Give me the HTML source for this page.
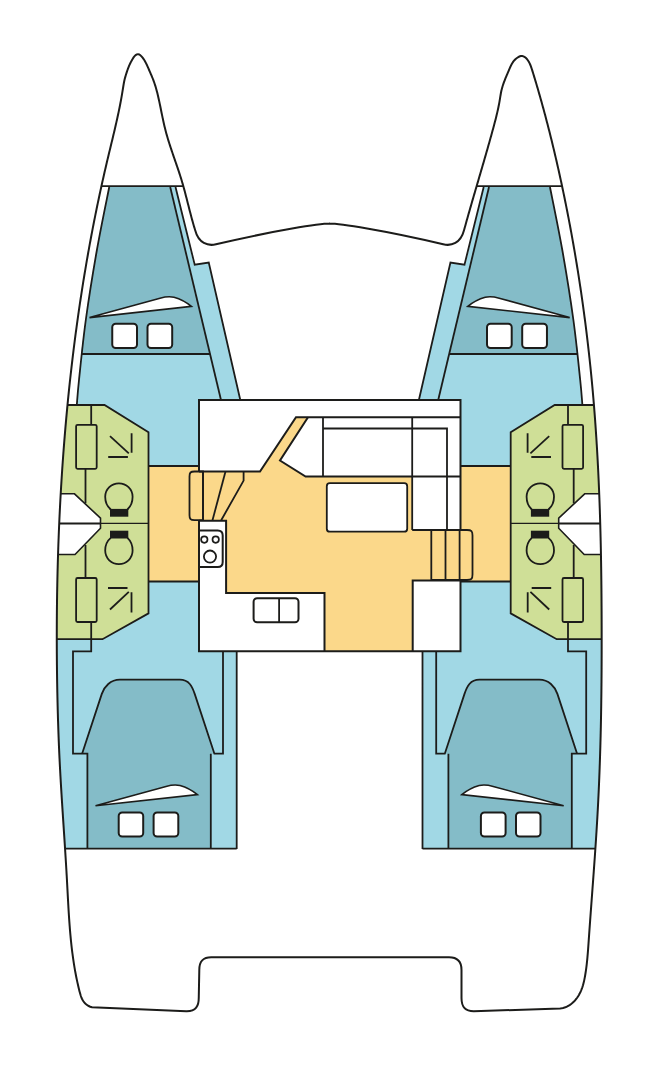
<!DOCTYPE html>
<html><head><meta charset="utf-8"><style>
html,body{margin:0;padding:0;background:#fff;width:660px;height:1080px;overflow:hidden;font-family:"Liberation Sans",sans-serif}
svg{display:block}
</style></head><body>
<svg width="660" height="1080" viewBox="0 0 660 1080">
<defs><clipPath id="hc"><path d="M330 223.6 C320 223.6 277 230 216 244.3 C208 246.22 198.61 243.5 195.1 230 L194.66 228.56 L194.22 227.12 L193.8 225.67 L193.38 224.23 L192.96 222.78 L192.56 221.33 L192.16 219.88 L191.76 218.43 L191.37 216.98 L190.98 215.53 L190.6 214.07 L190.22 212.62 L189.85 211.16 L189.47 209.71 L189.1 208.26 L188.73 206.8 L188.36 205.35 L187.99 203.89 L187.62 202.44 L187.25 200.98 L186.88 199.53 L186.51 198.08 L186.13 196.63 L185.75 195.18 L185.38 193.73 L184.99 192.28 L184.61 190.83 L184.21 189.38 L183.82 187.94 L183.42 186.49 L183.01 185.05 L182.6 183.61 L182.18 182.18 L181.75 180.74 L181.31 179.31 L180.87 177.87 L180.42 176.44 L179.97 175.02 L179.5 173.59 L179.04 172.17 L178.57 170.74 L178.09 169.32 L177.61 167.9 L177.13 166.48 L176.64 165.06 L176.15 163.64 L175.66 162.22 L175.17 160.8 L174.68 159.38 L174.19 157.96 L173.7 156.55 L173.21 155.13 L172.73 153.71 L172.24 152.29 L171.76 150.86 L171.28 149.44 L170.81 148.02 L170.34 146.59 L169.87 145.17 L169.41 143.74 L168.96 142.31 L168.51 140.88 L168.07 139.44 L167.64 138.01 L167.22 136.57 L166.81 135.12 L166.4 133.68 L166 132.23 L165.62 130.78 L165.25 129.33 L164.88 127.87 L164.53 126.41 L164.19 124.95 L163.85 123.48 L163.52 122.02 L163.2 120.55 L162.89 119.08 L162.58 117.61 L162.27 116.13 L161.96 114.66 L161.66 113.18 L161.36 111.71 L161.06 110.23 L160.77 108.76 L160.47 107.28 L160.16 105.81 L159.86 104.33 L159.55 102.86 L159.24 101.39 L158.92 99.92 L158.59 98.45 L158.26 96.99 L157.92 95.53 L157.57 94.07 L157.21 92.61 L156.83 91.16 L156.44 89.7 L156.03 88.26 L155.61 86.82 L155.17 85.38 L154.7 83.94 L154.22 82.51 L153.71 81.09 L153.17 79.67 L152.62 78.26 L152.04 76.86 L151.45 75.46 L150.86 74.08 L150.26 72.7 L149.68 71.34 L149.1 70 L148.54 68.67 L147.97 67.35 L147.39 66.03 L146.78 64.69 L146.11 63.34 L145.38 61.96 L144.55 60.55 L143.63 59.09 L142.6 57.64 L141.5 56.32 L140.35 55.23 L139.17 54.47 L137.99 54.15 L136.82 54.36 L135.69 55.06 L134.6 56.13 L133.58 57.45 L132.62 58.91 L131.75 60.4 L130.97 61.84 L130.27 63.24 L129.63 64.61 L129.04 65.97 L128.5 67.31 L127.99 68.66 L127.5 70.02 L127.01 71.4 L126.54 72.81 L126.08 74.23 L125.64 75.68 L125.23 77.13 L124.84 78.6 L124.48 80.07 L124.16 81.55 L123.87 83.03 L123.61 84.52 L123.36 86 L123.12 87.49 L122.88 88.97 L122.65 90.46 L122.41 91.95 L122.16 93.43 L121.91 94.91 L121.65 96.39 L121.39 97.87 L121.12 99.35 L120.85 100.83 L120.57 102.3 L120.29 103.78 L120 105.25 L119.71 106.72 L119.41 108.2 L119.11 109.67 L118.81 111.14 L118.5 112.61 L118.19 114.08 L117.87 115.54 L117.55 117.01 L117.23 118.48 L116.9 119.94 L116.58 121.41 L116.25 122.87 L115.91 124.33 L115.58 125.8 L115.24 127.26 L114.9 128.72 L114.56 130.18 L114.21 131.65 L113.87 133.11 L113.52 134.57 L113.17 136.03 L112.83 137.49 L112.48 138.95 L112.12 140.41 L111.77 141.87 L111.42 143.33 L111.07 144.79 L110.71 146.25 L110.36 147.7 L110.01 149.16 L109.66 150.62 L109.3 152.08 L108.95 153.54 L108.6 155 L108.25 156.46 L107.9 157.92 L107.55 159.38 L107.21 160.85 L106.86 162.31 L106.52 163.77 L106.18 165.23 L105.83 166.69 L105.49 168.16 L105.16 169.62 L104.82 171.08 L104.48 172.55 L104.15 174.01 L103.82 175.48 L103.48 176.94 L103.15 178.41 L102.83 179.87 L102.5 181.34 L102.17 182.8 L101.85 184.27 L101.52 185.74 L101.2 187.2 L100.88 188.67 L100.56 190.14 L100.24 191.61 L99.93 193.07 L99.61 194.54 L99.3 196.01 L98.98 197.48 L98.67 198.95 L98.36 200.42 L98.05 201.89 L97.75 203.36 L97.44 204.83 L97.14 206.3 L96.83 207.77 L96.53 209.25 L96.23 210.72 L95.93 212.19 L95.63 213.66 L95.34 215.14 L95.04 216.61 L94.75 218.08 L94.45 219.56 L94.16 221.03 L93.87 222.5 L93.58 223.98 L93.29 225.45 L93.01 226.93 L92.72 228.4 L92.44 229.88 L92.16 231.35 L91.88 232.83 L91.6 234.31 L91.32 235.78 L91.04 237.26 L90.76 238.74 L90.49 240.21 L90.21 241.69 L89.94 243.17 L89.67 244.65 L89.4 246.13 L89.13 247.6 L88.87 249.08 L88.6 250.56 L88.33 252.04 L88.07 253.52 L87.81 255 L87.55 256.48 L87.29 257.96 L87.03 259.44 L86.77 260.92 L86.52 262.4 L86.26 263.89 L86.01 265.37 L85.76 266.85 L85.51 268.33 L85.26 269.81 L85.01 271.3 L84.76 272.78 L84.51 274.26 L84.27 275.74 L84.03 277.23 L83.78 278.71 L83.54 280.19 L83.3 281.68 L83.06 283.16 L82.83 284.65 L82.59 286.13 L82.36 287.62 L82.12 289.1 L81.89 290.59 L81.66 292.07 L81.43 293.56 L81.2 295.04 L80.97 296.53 L80.74 298.01 L80.52 299.5 L80.29 300.99 L80.07 302.47 L79.85 303.96 L79.63 305.45 L79.41 306.93 L79.19 308.42 L78.97 309.91 L78.76 311.4 L78.54 312.88 L78.33 314.37 L78.12 315.86 L77.91 317.35 L77.7 318.84 L77.49 320.33 L77.28 321.81 L77.07 323.3 L76.87 324.79 L76.66 326.28 L76.46 327.77 L76.26 329.26 L76.06 330.75 L75.86 332.24 L75.66 333.73 L75.46 335.22 L75.27 336.71 L75.07 338.2 L74.88 339.69 L74.69 341.18 L74.5 342.67 L74.3 344.17 L74.12 345.66 L73.93 347.15 L73.74 348.64 L73.55 350.13 L73.37 351.62 L73.19 353.11 L73 354.61 L72.82 356.1 L72.64 357.59 L72.46 359.08 L72.29 360.58 L72.11 362.07 L71.93 363.56 L71.76 365.05 L71.58 366.55 L71.41 368.04 L71.24 369.53 L71.07 371.03 L70.9 372.52 L70.73 374.01 L70.57 375.51 L70.4 377 L70.24 378.49 L70.07 379.99 L69.91 381.48 L69.75 382.98 L69.59 384.47 L69.43 385.96 L69.27 387.46 L69.11 388.95 L68.96 390.45 L68.8 391.94 L68.65 393.44 L68.5 394.93 L68.34 396.43 L68.19 397.92 L68.04 399.42 L67.9 400.91 L67.75 402.41 L67.6 403.9 L67.46 405.4 L67.31 406.89 L67.17 408.39 L67.03 409.88 L66.89 411.38 L66.75 412.88 L66.61 414.37 L66.47 415.87 L66.33 417.36 L66.2 418.86 L66.06 420.36 L65.93 421.85 L65.8 423.35 L65.66 424.85 L65.53 426.34 L65.4 427.84 L65.28 429.34 L65.15 430.83 L65.02 432.33 L64.9 433.83 L64.77 435.32 L64.65 436.82 L64.53 438.32 L64.4 439.82 L64.28 441.31 L64.16 442.81 L64.05 444.31 L63.93 445.81 L63.81 447.3 L63.7 448.8 L63.58 450.3 L63.47 451.8 L63.36 453.29 L63.25 454.79 L63.14 456.29 L63.03 457.79 L62.92 459.29 L62.81 460.78 L62.71 462.28 L62.6 463.78 L62.5 465.28 L62.39 466.78 L62.29 468.28 L62.19 469.78 L62.09 471.27 L61.99 472.77 L61.89 474.27 L61.8 475.77 L61.7 477.27 L61.61 478.77 L61.51 480.27 L61.42 481.77 L61.33 483.27 L61.24 484.77 L61.14 486.27 L61.06 487.76 L60.97 489.26 L60.88 490.76 L60.79 492.26 L60.71 493.76 L60.62 495.26 L60.54 496.76 L60.46 498.26 L60.38 499.76 L60.3 501.26 L60.22 502.76 L60.14 504.26 L60.06 505.76 L59.98 507.26 L59.91 508.76 L59.83 510.26 L59.76 511.76 L59.69 513.26 L59.61 514.76 L59.54 516.26 L59.47 517.76 L59.4 519.27 L59.33 520.77 L59.27 522.27 L59.2 523.77 L59.14 525.27 L59.07 526.77 L59.01 528.27 L58.95 529.77 L58.88 531.27 L58.82 532.77 L58.76 534.27 L58.7 535.77 L58.65 537.28 L58.59 538.78 L58.53 540.28 L58.48 541.78 L58.42 543.28 L58.37 544.78 L58.32 546.28 L58.27 547.78 L58.22 549.29 L58.17 550.79 L58.12 552.29 L58.07 553.79 L58.02 555.29 L57.98 556.79 L57.93 558.29 L57.89 559.8 L57.84 561.3 L57.8 562.8 L57.76 564.3 L57.72 565.8 L57.68 567.3 L57.64 568.81 L57.6 570.31 L57.56 571.81 L57.53 573.31 L57.49 574.81 L57.46 576.32 L57.42 577.82 L57.39 579.32 L57.36 580.82 L57.33 582.32 L57.3 583.83 L57.27 585.33 L57.24 586.83 L57.21 588.33 L57.19 589.84 L57.16 591.34 L57.14 592.84 L57.11 594.34 L57.09 595.84 L57.07 597.35 L57.04 598.85 L57.02 600.35 L57 601.85 L56.99 603.36 L56.97 604.86 L56.95 606.36 L56.93 607.86 L56.92 609.37 L56.9 610.87 L56.89 612.37 L56.88 613.87 L56.86 615.38 L56.85 616.88 L56.84 618.38 L56.83 619.88 L56.82 621.39 L56.82 622.89 L56.81 624.39 L56.8 625.9 L56.8 627.4 L56.79 628.9 L56.79 630.4 L56.79 631.91 L56.78 633.41 L56.78 634.91 L56.78 636.41 L56.78 637.92 L56.78 639.42 L56.78 640.92 L56.79 642.43 L56.79 643.93 L56.8 645.43 L56.8 646.93 L56.81 648.44 L56.81 649.94 L56.82 651.44 L56.83 652.95 L56.84 654.45 L56.85 655.95 L56.86 657.45 L56.87 658.96 L56.88 660.46 L56.9 661.96 L56.91 663.46 L56.92 664.97 L56.94 666.47 L56.96 667.97 L56.97 669.48 L56.99 670.98 L57.01 672.48 L57.03 673.98 L57.05 675.49 L57.07 676.99 L57.09 678.49 L57.11 680 L57.14 681.5 L57.16 683 L57.19 684.5 L57.21 686.01 L57.24 687.51 L57.26 689.01 L57.29 690.52 L57.32 692.02 L57.35 693.52 L57.38 695.02 L57.41 696.53 L57.45 698.03 L57.48 699.53 L57.51 701.03 L57.55 702.54 L57.58 704.04 L57.62 705.54 L57.66 707.04 L57.69 708.55 L57.73 710.05 L57.77 711.55 L57.81 713.05 L57.86 714.56 L57.9 716.06 L57.94 717.56 L57.99 719.06 L58.03 720.56 L58.08 722.07 L58.13 723.57 L58.18 725.07 L58.23 726.57 L58.28 728.07 L58.33 729.58 L58.38 731.08 L58.43 732.58 L58.49 734.08 L58.54 735.58 L58.6 737.08 L58.66 738.59 L58.72 740.09 L58.78 741.59 L58.84 743.09 L58.9 744.59 L58.96 746.09 L59.03 747.59 L59.09 749.09 L59.16 750.59 L59.22 752.09 L59.29 753.6 L59.36 755.1 L59.43 756.6 L59.5 758.1 L59.58 759.6 L59.65 761.1 L59.73 762.6 L59.8 764.1 L59.88 765.6 L59.96 767.1 L60.04 768.6 L60.12 770.1 L60.2 771.6 L60.28 773.1 L60.36 774.6 L60.45 776.1 L60.53 777.6 L60.62 779.1 L60.7 780.59 L60.79 782.09 L60.88 783.59 L60.97 785.09 L61.06 786.59 L61.15 788.09 L61.24 789.59 L61.33 791.09 L61.42 792.59 L61.51 794.09 L61.61 795.59 L61.7 797.09 L61.79 798.58 L61.89 800.08 L61.98 801.58 L62.08 803.08 L62.18 804.58 L62.27 806.08 L62.37 807.58 L62.47 809.08 L62.56 810.58 L62.66 812.07 L62.76 813.57 L62.86 815.07 L62.95 816.57 L63.05 818.07 L63.15 819.57 L63.25 821.07 L63.35 822.57 L63.45 824.07 L63.55 825.57 L63.65 827.06 L63.74 828.56 L63.84 830.06 L63.94 831.56 L64.04 833.06 L64.14 834.56 L64.24 836.06 L64.34 837.56 L64.43 839.06 L64.53 840.56 L64.63 842.06 L64.73 843.56 L64.82 845.06 L64.92 846.56 L65.02 848.06 L65.11 849.56 L65.21 851.06 L65.3 852.56 L65.4 854.06 L65.49 855.56 L65.59 857.06 L65.68 858.56 L65.77 860.06 L65.87 861.56 L65.96 863.06 L66.05 864.56 L66.14 866.06 L66.23 867.56 L66.32 869.06 L66.41 870.56 L66.49 872.07 L66.58 873.57 L66.67 875.07 L66.75 876.57 L66.84 878.07 L66.92 879.57 L67 881.08 L67.08 882.58 L67.16 884.08 L67.24 885.58 L67.32 887.08 L67.4 888.59 L67.48 890.09 L67.56 891.59 L67.64 893.09 L67.72 894.6 L67.8 896.1 L67.88 897.6 L67.96 899.1 L68.05 900.61 L68.13 902.11 L68.21 903.61 L68.3 905.11 L68.38 906.61 L68.47 908.12 L68.56 909.62 L68.65 911.12 L68.74 912.62 L68.84 914.12 L68.93 915.62 L69.03 917.12 L69.13 918.62 L69.24 920.12 L69.34 921.62 L69.45 923.12 L69.56 924.62 L69.68 926.11 L69.79 927.61 L69.91 929.11 L70.04 930.61 L70.16 932.1 L70.29 933.6 L70.43 935.09 L70.57 936.59 L70.71 938.08 L70.85 939.58 L71 941.07 L71.16 942.56 L71.32 944.06 L71.48 945.55 L71.65 947.04 L71.82 948.53 L72 950.02 L72.19 951.51 L72.37 953 L72.57 954.48 L72.77 955.97 L72.97 957.46 L73.18 958.94 L73.4 960.43 L73.62 961.91 L73.85 963.39 L74.09 964.88 L74.33 966.36 L74.58 967.84 L74.83 969.32 L75.09 970.8 L75.36 972.27 L75.64 973.75 L75.92 975.23 L76.21 976.7 L76.51 978.18 L76.81 979.65 L77.13 981.12 L77.45 982.59 L77.78 984.06 L78.11 985.53 L78.46 987 L78.81 988.47 L79.17 989.93 L79.54 991.4 L79.93 992.86 L80.34 994.3 L80.78 995.73 L81.28 997.12 L81.85 998.47 L82.49 999.78 L83.22 1001.02 L84.06 1002.2 L85.01 1003.3 L86.1 1004.31 L87.33 1005.22 L88.71 1006.03 L90.26 1006.73 L92 1007.3 L186.25 1011.25 C196 1011.5 198.75 1006 198.75 998 L199.3 970 C199.3 961 203 957.3 211.25 957.3 L449 957.3 C457 957.3 461.5 961 461.5 970 L461.5 998 C461.5 1007 465 1011.25 473.75 1011.25 L560 1008.5 L561.58 1008.29 L563.11 1007.97 L564.59 1007.55 L566.01 1007.02 L567.38 1006.41 L568.7 1005.7 L569.96 1004.91 L571.17 1004.05 L572.32 1003.11 L573.43 1002.1 L574.48 1001.03 L575.47 999.91 L576.41 998.73 L577.31 997.5 L578.14 996.24 L578.93 994.94 L579.66 993.6 L580.34 992.25 L580.96 990.87 L581.54 989.47 L582.06 988.07 L582.54 986.64 L582.98 985.21 L583.38 983.77 L583.75 982.32 L584.09 980.86 L584.4 979.39 L584.69 977.92 L584.96 976.45 L585.22 974.97 L585.46 973.49 L585.69 972.01 L585.91 970.53 L586.12 969.04 L586.32 967.56 L586.51 966.07 L586.69 964.58 L586.85 963.09 L587.01 961.6 L587.17 960.11 L587.31 958.62 L587.45 957.12 L587.58 955.63 L587.71 954.13 L587.83 952.63 L587.95 951.14 L588.07 949.64 L588.18 948.14 L588.29 946.64 L588.39 945.14 L588.5 943.64 L588.6 942.15 L588.71 940.65 L588.81 939.15 L588.92 937.65 L589.02 936.15 L589.13 934.65 L589.23 933.15 L589.34 931.65 L589.45 930.15 L589.55 928.65 L589.66 927.15 L589.77 925.65 L589.88 924.15 L589.99 922.65 L590.1 921.15 L590.2 919.66 L590.31 918.16 L590.42 916.66 L590.53 915.16 L590.64 913.66 L590.75 912.16 L590.87 910.66 L590.98 909.16 L591.09 907.66 L591.2 906.16 L591.31 904.66 L591.42 903.17 L591.53 901.67 L591.64 900.17 L591.75 898.67 L591.87 897.17 L591.98 895.67 L592.09 894.17 L592.2 892.67 L592.31 891.17 L592.42 889.67 L592.53 888.18 L592.64 886.68 L592.76 885.18 L592.87 883.68 L592.98 882.18 L593.09 880.68 L593.2 879.18 L593.31 877.68 L593.42 876.18 L593.53 874.69 L593.64 873.19 L593.75 871.69 L593.85 870.19 L593.96 868.69 L594.07 867.19 L594.18 865.69 L594.29 864.19 L594.39 862.69 L594.5 861.19 L594.6 859.7 L594.71 858.2 L594.82 856.7 L594.92 855.2 L595.02 853.7 L595.13 852.2 L595.23 850.7 L595.33 849.2 L595.44 847.7 L595.54 846.2 L595.64 844.71 L595.74 843.21 L595.84 841.71 L595.94 840.21 L596.03 838.71 L596.13 837.21 L596.23 835.71 L596.32 834.21 L596.42 832.71 L596.51 831.21 L596.61 829.71 L596.7 828.21 L596.79 826.71 L596.88 825.21 L596.97 823.71 L597.06 822.22 L597.15 820.72 L597.24 819.22 L597.33 817.72 L597.41 816.22 L597.5 814.72 L597.58 813.22 L597.66 811.72 L597.75 810.22 L597.83 808.72 L597.91 807.22 L597.99 805.72 L598.06 804.22 L598.14 802.72 L598.22 801.22 L598.29 799.72 L598.36 798.22 L598.44 796.72 L598.51 795.22 L598.58 793.72 L598.65 792.22 L598.72 790.72 L598.79 789.22 L598.85 787.72 L598.92 786.22 L598.98 784.72 L599.05 783.22 L599.11 781.72 L599.17 780.22 L599.23 778.72 L599.29 777.22 L599.35 775.72 L599.41 774.22 L599.47 772.72 L599.53 771.22 L599.58 769.71 L599.64 768.21 L599.69 766.71 L599.74 765.21 L599.8 763.71 L599.85 762.21 L599.9 760.71 L599.95 759.21 L600 757.71 L600.05 756.21 L600.09 754.71 L600.14 753.21 L600.18 751.71 L600.23 750.2 L600.27 748.7 L600.32 747.2 L600.36 745.7 L600.4 744.2 L600.44 742.7 L600.48 741.2 L600.52 739.7 L600.56 738.2 L600.6 736.7 L600.63 735.19 L600.67 733.69 L600.7 732.19 L600.74 730.69 L600.77 729.19 L600.81 727.69 L600.84 726.19 L600.87 724.68 L600.9 723.18 L600.93 721.68 L600.96 720.18 L600.99 718.68 L601.02 717.18 L601.04 715.68 L601.07 714.17 L601.1 712.67 L601.12 711.17 L601.15 709.67 L601.17 708.17 L601.2 706.67 L601.22 705.16 L601.24 703.66 L601.26 702.16 L601.28 700.66 L601.3 699.16 L601.32 697.66 L601.34 696.15 L601.36 694.65 L601.38 693.15 L601.4 691.65 L601.41 690.15 L601.43 688.64 L601.44 687.14 L601.46 685.64 L601.47 684.14 L601.49 682.64 L601.5 681.13 L601.51 679.63 L601.52 678.13 L601.54 676.63 L601.55 675.12 L601.56 673.62 L601.57 672.12 L601.58 670.62 L601.59 669.12 L601.59 667.61 L601.6 666.11 L601.61 664.61 L601.62 663.11 L601.62 661.6 L601.63 660.1 L601.63 658.6 L601.64 657.1 L601.64 655.59 L601.65 654.09 L601.65 652.59 L601.65 651.09 L601.66 649.58 L601.66 648.08 L601.66 646.58 L601.66 645.08 L601.66 643.57 L601.66 642.07 L601.66 640.57 L601.66 639.07 L601.66 637.56 L601.66 636.06 L601.66 634.56 L601.66 633.05 L601.66 631.55 L601.66 630.05 L601.65 628.55 L601.65 627.04 L601.65 625.54 L601.64 624.04 L601.64 622.53 L601.63 621.03 L601.63 619.53 L601.62 618.03 L601.62 616.52 L601.61 615.02 L601.6 613.52 L601.6 612.01 L601.59 610.51 L601.58 609.01 L601.57 607.5 L601.56 606 L601.55 604.5 L601.54 603 L601.53 601.49 L601.52 599.99 L601.51 598.49 L601.5 596.98 L601.49 595.48 L601.48 593.98 L601.46 592.47 L601.45 590.97 L601.44 589.47 L601.42 587.97 L601.41 586.46 L601.39 584.96 L601.37 583.46 L601.36 581.95 L601.34 580.45 L601.32 578.95 L601.3 577.44 L601.28 575.94 L601.26 574.44 L601.24 572.94 L601.22 571.43 L601.2 569.93 L601.18 568.43 L601.16 566.92 L601.13 565.42 L601.11 563.92 L601.09 562.41 L601.06 560.91 L601.03 559.41 L601.01 557.91 L600.98 556.4 L600.95 554.9 L600.93 553.4 L600.9 551.89 L600.87 550.39 L600.84 548.89 L600.81 547.39 L600.77 545.88 L600.74 544.38 L600.71 542.88 L600.68 541.38 L600.64 539.87 L600.61 538.37 L600.57 536.87 L600.53 535.37 L600.5 533.86 L600.46 532.36 L600.42 530.86 L600.38 529.36 L600.34 527.85 L600.3 526.35 L600.26 524.85 L600.21 523.35 L600.17 521.85 L600.13 520.34 L600.08 518.84 L600.04 517.34 L599.99 515.84 L599.94 514.34 L599.89 512.83 L599.85 511.33 L599.8 509.83 L599.75 508.33 L599.69 506.83 L599.64 505.32 L599.59 503.82 L599.53 502.32 L599.48 500.82 L599.42 499.32 L599.37 497.82 L599.31 496.32 L599.25 494.81 L599.19 493.31 L599.13 491.81 L599.07 490.31 L599.01 488.81 L598.95 487.31 L598.88 485.81 L598.82 484.31 L598.75 482.81 L598.69 481.3 L598.62 479.8 L598.55 478.3 L598.48 476.8 L598.41 475.3 L598.34 473.8 L598.27 472.3 L598.2 470.8 L598.12 469.3 L598.05 467.8 L597.97 466.3 L597.89 464.8 L597.81 463.3 L597.74 461.8 L597.66 460.3 L597.57 458.8 L597.49 457.3 L597.41 455.8 L597.32 454.3 L597.24 452.8 L597.15 451.3 L597.07 449.8 L596.98 448.3 L596.89 446.8 L596.8 445.3 L596.7 443.81 L596.61 442.31 L596.52 440.81 L596.42 439.31 L596.33 437.81 L596.23 436.31 L596.13 434.81 L596.03 433.31 L595.93 431.81 L595.83 430.32 L595.73 428.82 L595.62 427.32 L595.52 425.82 L595.41 424.32 L595.3 422.83 L595.2 421.33 L595.09 419.83 L594.97 418.33 L594.86 416.84 L594.75 415.34 L594.63 413.84 L594.52 412.34 L594.4 410.85 L594.28 409.35 L594.16 407.85 L594.04 406.35 L593.92 404.86 L593.8 403.36 L593.67 401.86 L593.55 400.37 L593.42 398.87 L593.29 397.38 L593.16 395.88 L593.03 394.38 L592.9 392.89 L592.77 391.39 L592.63 389.9 L592.5 388.4 L592.36 386.9 L592.22 385.41 L592.08 383.91 L591.94 382.42 L591.8 380.92 L591.66 379.43 L591.51 377.93 L591.37 376.44 L591.22 374.94 L591.07 373.45 L590.92 371.96 L590.77 370.46 L590.62 368.97 L590.47 367.47 L590.32 365.98 L590.16 364.49 L590 362.99 L589.84 361.5 L589.69 360 L589.52 358.51 L589.36 357.02 L589.2 355.53 L589.04 354.03 L588.87 352.54 L588.7 351.05 L588.53 349.55 L588.36 348.06 L588.19 346.57 L588.02 345.08 L587.85 343.59 L587.67 342.1 L587.5 340.6 L587.32 339.11 L587.14 337.62 L586.96 336.13 L586.78 334.64 L586.6 333.15 L586.42 331.66 L586.23 330.17 L586.05 328.68 L585.86 327.19 L585.67 325.7 L585.48 324.21 L585.29 322.72 L585.1 321.23 L584.9 319.74 L584.71 318.25 L584.51 316.76 L584.31 315.27 L584.12 313.78 L583.92 312.29 L583.71 310.8 L583.51 309.32 L583.31 307.83 L583.1 306.34 L582.9 304.85 L582.69 303.37 L582.48 301.88 L582.27 300.39 L582.06 298.9 L581.84 297.42 L581.63 295.93 L581.41 294.44 L581.2 292.96 L580.98 291.47 L580.76 289.99 L580.54 288.5 L580.32 287.01 L580.09 285.53 L579.87 284.04 L579.64 282.56 L579.42 281.07 L579.19 279.59 L578.96 278.1 L578.73 276.62 L578.5 275.14 L578.26 273.65 L578.03 272.17 L577.79 270.68 L577.55 269.2 L577.31 267.72 L577.07 266.24 L576.83 264.75 L576.59 263.27 L576.35 261.79 L576.1 260.31 L575.85 258.82 L575.6 257.34 L575.36 255.86 L575.1 254.38 L574.85 252.9 L574.6 251.42 L574.34 249.94 L574.09 248.46 L573.83 246.98 L573.57 245.5 L573.31 244.02 L573.05 242.54 L572.79 241.06 L572.53 239.58 L572.26 238.1 L571.99 236.62 L571.73 235.14 L571.46 233.66 L571.19 232.19 L570.91 230.71 L570.64 229.23 L570.37 227.75 L570.09 226.28 L569.81 224.8 L569.54 223.32 L569.26 221.85 L568.97 220.37 L568.69 218.9 L568.41 217.42 L568.12 215.94 L567.84 214.47 L567.55 212.99 L567.26 211.52 L566.97 210.04 L566.68 208.57 L566.39 207.1 L566.09 205.62 L565.8 204.15 L565.5 202.68 L565.2 201.2 L564.9 199.73 L564.6 198.26 L564.3 196.79 L563.99 195.31 L563.69 193.84 L563.38 192.37 L563.07 190.9 L562.76 189.43 L562.45 187.96 L562.14 186.49 L561.83 185.02 L561.51 183.55 L561.2 182.08 L560.88 180.61 L560.56 179.14 L560.24 177.67 L559.92 176.2 L559.6 174.73 L559.27 173.27 L558.95 171.8 L558.62 170.33 L558.29 168.86 L557.96 167.4 L557.63 165.93 L557.3 164.47 L556.96 163 L556.63 161.53 L556.29 160.07 L555.95 158.61 L555.61 157.14 L555.27 155.68 L554.92 154.21 L554.58 152.75 L554.23 151.29 L553.88 149.83 L553.54 148.36 L553.18 146.9 L552.83 145.44 L552.48 143.98 L552.12 142.52 L551.76 141.06 L551.41 139.6 L551.05 138.14 L550.68 136.69 L550.32 135.23 L549.95 133.77 L549.59 132.31 L549.22 130.86 L548.85 129.4 L548.48 127.94 L548.1 126.49 L547.73 125.04 L547.35 123.58 L546.97 122.13 L546.59 120.67 L546.21 119.22 L545.83 117.77 L545.44 116.32 L545.06 114.87 L544.67 113.42 L544.28 111.97 L543.89 110.52 L543.49 109.07 L543.1 107.62 L542.7 106.17 L542.3 104.72 L541.9 103.28 L541.5 101.83 L541.09 100.38 L540.69 98.94 L540.28 97.49 L539.87 96.05 L539.46 94.61 L539.05 93.16 L538.63 91.72 L538.22 90.28 L537.8 88.84 L537.38 87.4 L536.95 85.96 L536.53 84.52 L536.1 83.08 L535.68 81.64 L535.25 80.21 L534.82 78.77 L534.38 77.34 L533.95 75.9 L533.51 74.47 L533.06 73.03 L532.62 71.6 L532.17 70.17 L531.71 68.74 L531.24 67.32 L530.72 65.91 L530.16 64.52 L529.52 63.14 L528.8 61.79 L527.97 60.48 L527.02 59.2 L525.96 58.02 L524.78 57.02 L523.52 56.32 L522.18 56 L520.78 56.09 L519.37 56.53 L517.97 57.25 L516.63 58.19 L515.37 59.29 L514.25 60.47 L513.26 61.7 L512.4 62.97 L511.63 64.28 L510.94 65.61 L510.3 66.95 L509.71 68.32 L509.13 69.69 L508.55 71.06 L507.96 72.43 L507.37 73.81 L506.78 75.18 L506.2 76.57 L505.62 77.96 L505.06 79.35 L504.5 80.76 L503.97 82.18 L503.46 83.61 L502.98 85.04 L502.52 86.48 L502.1 87.93 L501.71 89.39 L501.37 90.84 L501.06 92.31 L500.79 93.77 L500.54 95.24 L500.3 96.71 L500.06 98.18 L499.82 99.65 L499.58 101.12 L499.31 102.59 L499.04 104.06 L498.75 105.52 L498.46 106.99 L498.15 108.46 L497.83 109.92 L497.5 111.39 L497.17 112.85 L496.82 114.31 L496.47 115.77 L496.11 117.23 L495.75 118.69 L495.37 120.15 L495 121.61 L494.61 123.07 L494.23 124.52 L493.84 125.98 L493.44 127.44 L493.05 128.89 L492.65 130.34 L492.25 131.8 L491.85 133.25 L491.45 134.7 L491.05 136.15 L490.65 137.6 L490.24 139.05 L489.83 140.5 L489.43 141.95 L489.02 143.4 L488.61 144.84 L488.2 146.29 L487.79 147.74 L487.38 149.18 L486.96 150.63 L486.55 152.07 L486.13 153.52 L485.72 154.96 L485.3 156.4 L484.89 157.85 L484.47 159.29 L484.05 160.73 L483.63 162.17 L483.21 163.62 L482.79 165.06 L482.37 166.5 L481.95 167.94 L481.53 169.38 L481.11 170.82 L480.69 172.26 L480.27 173.7 L479.85 175.14 L479.43 176.58 L479 178.02 L478.58 179.47 L478.16 180.91 L477.74 182.35 L477.32 183.79 L476.9 185.23 L476.47 186.67 L476.05 188.11 L475.63 189.55 L475.21 190.99 L474.79 192.43 L474.37 193.87 L473.95 195.31 L473.53 196.75 L473.11 198.19 L472.69 199.63 L472.28 201.08 L471.86 202.52 L471.44 203.96 L471.03 205.4 L470.61 206.85 L470.2 208.29 L469.78 209.73 L469.37 211.18 L468.96 212.62 L468.55 214.07 L468.14 215.51 L467.73 216.96 L467.32 218.41 L466.91 219.85 L466.51 221.3 L466.1 222.75 L465.7 224.2 L465.3 225.65 L464.9 227.1 L464.5 228.55 L464.1 230 C460.59 243.5 451.2 246.22 443.2 244.3 C382.2 230 339.2 223.6 329.2 223.6 Z"/></clipPath></defs>
<path d="M330 223.6 C320 223.6 277 230 216 244.3 C208 246.22 198.61 243.5 195.1 230 L194.66 228.56 L194.22 227.12 L193.8 225.67 L193.38 224.23 L192.96 222.78 L192.56 221.33 L192.16 219.88 L191.76 218.43 L191.37 216.98 L190.98 215.53 L190.6 214.07 L190.22 212.62 L189.85 211.16 L189.47 209.71 L189.1 208.26 L188.73 206.8 L188.36 205.35 L187.99 203.89 L187.62 202.44 L187.25 200.98 L186.88 199.53 L186.51 198.08 L186.13 196.63 L185.75 195.18 L185.38 193.73 L184.99 192.28 L184.61 190.83 L184.21 189.38 L183.82 187.94 L183.42 186.49 L183.01 185.05 L182.6 183.61 L182.18 182.18 L181.75 180.74 L181.31 179.31 L180.87 177.87 L180.42 176.44 L179.97 175.02 L179.5 173.59 L179.04 172.17 L178.57 170.74 L178.09 169.32 L177.61 167.9 L177.13 166.48 L176.64 165.06 L176.15 163.64 L175.66 162.22 L175.17 160.8 L174.68 159.38 L174.19 157.96 L173.7 156.55 L173.21 155.13 L172.73 153.71 L172.24 152.29 L171.76 150.86 L171.28 149.44 L170.81 148.02 L170.34 146.59 L169.87 145.17 L169.41 143.74 L168.96 142.31 L168.51 140.88 L168.07 139.44 L167.64 138.01 L167.22 136.57 L166.81 135.12 L166.4 133.68 L166 132.23 L165.62 130.78 L165.25 129.33 L164.88 127.87 L164.53 126.41 L164.19 124.95 L163.85 123.48 L163.52 122.02 L163.2 120.55 L162.89 119.08 L162.58 117.61 L162.27 116.13 L161.96 114.66 L161.66 113.18 L161.36 111.71 L161.06 110.23 L160.77 108.76 L160.47 107.28 L160.16 105.81 L159.86 104.33 L159.55 102.86 L159.24 101.39 L158.92 99.92 L158.59 98.45 L158.26 96.99 L157.92 95.53 L157.57 94.07 L157.21 92.61 L156.83 91.16 L156.44 89.7 L156.03 88.26 L155.61 86.82 L155.17 85.38 L154.7 83.94 L154.22 82.51 L153.71 81.09 L153.17 79.67 L152.62 78.26 L152.04 76.86 L151.45 75.46 L150.86 74.08 L150.26 72.7 L149.68 71.34 L149.1 70 L148.54 68.67 L147.97 67.35 L147.39 66.03 L146.78 64.69 L146.11 63.34 L145.38 61.96 L144.55 60.55 L143.63 59.09 L142.6 57.64 L141.5 56.32 L140.35 55.23 L139.17 54.47 L137.99 54.15 L136.82 54.36 L135.69 55.06 L134.6 56.13 L133.58 57.45 L132.62 58.91 L131.75 60.4 L130.97 61.84 L130.27 63.24 L129.63 64.61 L129.04 65.97 L128.5 67.31 L127.99 68.66 L127.5 70.02 L127.01 71.4 L126.54 72.81 L126.08 74.23 L125.64 75.68 L125.23 77.13 L124.84 78.6 L124.48 80.07 L124.16 81.55 L123.87 83.03 L123.61 84.52 L123.36 86 L123.12 87.49 L122.88 88.97 L122.65 90.46 L122.41 91.95 L122.16 93.43 L121.91 94.91 L121.65 96.39 L121.39 97.87 L121.12 99.35 L120.85 100.83 L120.57 102.3 L120.29 103.78 L120 105.25 L119.71 106.72 L119.41 108.2 L119.11 109.67 L118.81 111.14 L118.5 112.61 L118.19 114.08 L117.87 115.54 L117.55 117.01 L117.23 118.48 L116.9 119.94 L116.58 121.41 L116.25 122.87 L115.91 124.33 L115.58 125.8 L115.24 127.26 L114.9 128.72 L114.56 130.18 L114.21 131.65 L113.87 133.11 L113.52 134.57 L113.17 136.03 L112.83 137.49 L112.48 138.95 L112.12 140.41 L111.77 141.87 L111.42 143.33 L111.07 144.79 L110.71 146.25 L110.36 147.7 L110.01 149.16 L109.66 150.62 L109.3 152.08 L108.95 153.54 L108.6 155 L108.25 156.46 L107.9 157.92 L107.55 159.38 L107.21 160.85 L106.86 162.31 L106.52 163.77 L106.18 165.23 L105.83 166.69 L105.49 168.16 L105.16 169.62 L104.82 171.08 L104.48 172.55 L104.15 174.01 L103.82 175.48 L103.48 176.94 L103.15 178.41 L102.83 179.87 L102.5 181.34 L102.17 182.8 L101.85 184.27 L101.52 185.74 L101.2 187.2 L100.88 188.67 L100.56 190.14 L100.24 191.61 L99.93 193.07 L99.61 194.54 L99.3 196.01 L98.98 197.48 L98.67 198.95 L98.36 200.42 L98.05 201.89 L97.75 203.36 L97.44 204.83 L97.14 206.3 L96.83 207.77 L96.53 209.25 L96.23 210.72 L95.93 212.19 L95.63 213.66 L95.34 215.14 L95.04 216.61 L94.75 218.08 L94.45 219.56 L94.16 221.03 L93.87 222.5 L93.58 223.98 L93.29 225.45 L93.01 226.93 L92.72 228.4 L92.44 229.88 L92.16 231.35 L91.88 232.83 L91.6 234.31 L91.32 235.78 L91.04 237.26 L90.76 238.74 L90.49 240.21 L90.21 241.69 L89.94 243.17 L89.67 244.65 L89.4 246.13 L89.13 247.6 L88.87 249.08 L88.6 250.56 L88.33 252.04 L88.07 253.52 L87.81 255 L87.55 256.48 L87.29 257.96 L87.03 259.44 L86.77 260.92 L86.52 262.4 L86.26 263.89 L86.01 265.37 L85.76 266.85 L85.51 268.33 L85.26 269.81 L85.01 271.3 L84.76 272.78 L84.51 274.26 L84.27 275.74 L84.03 277.23 L83.78 278.71 L83.54 280.19 L83.3 281.68 L83.06 283.16 L82.83 284.65 L82.59 286.13 L82.36 287.62 L82.12 289.1 L81.89 290.59 L81.66 292.07 L81.43 293.56 L81.2 295.04 L80.97 296.53 L80.74 298.01 L80.52 299.5 L80.29 300.99 L80.07 302.47 L79.85 303.96 L79.63 305.45 L79.41 306.93 L79.19 308.42 L78.97 309.91 L78.76 311.4 L78.54 312.88 L78.33 314.37 L78.12 315.86 L77.91 317.35 L77.7 318.84 L77.49 320.33 L77.28 321.81 L77.07 323.3 L76.87 324.79 L76.66 326.28 L76.46 327.77 L76.26 329.26 L76.06 330.75 L75.86 332.24 L75.66 333.73 L75.46 335.22 L75.27 336.71 L75.07 338.2 L74.88 339.69 L74.69 341.18 L74.5 342.67 L74.3 344.17 L74.12 345.66 L73.93 347.15 L73.74 348.64 L73.55 350.13 L73.37 351.62 L73.19 353.11 L73 354.61 L72.82 356.1 L72.64 357.59 L72.46 359.08 L72.29 360.58 L72.11 362.07 L71.93 363.56 L71.76 365.05 L71.58 366.55 L71.41 368.04 L71.24 369.53 L71.07 371.03 L70.9 372.52 L70.73 374.01 L70.57 375.51 L70.4 377 L70.24 378.49 L70.07 379.99 L69.91 381.48 L69.75 382.98 L69.59 384.47 L69.43 385.96 L69.27 387.46 L69.11 388.95 L68.96 390.45 L68.8 391.94 L68.65 393.44 L68.5 394.93 L68.34 396.43 L68.19 397.92 L68.04 399.42 L67.9 400.91 L67.75 402.41 L67.6 403.9 L67.46 405.4 L67.31 406.89 L67.17 408.39 L67.03 409.88 L66.89 411.38 L66.75 412.88 L66.61 414.37 L66.47 415.87 L66.33 417.36 L66.2 418.86 L66.06 420.36 L65.93 421.85 L65.8 423.35 L65.66 424.85 L65.53 426.34 L65.4 427.84 L65.28 429.34 L65.15 430.83 L65.02 432.33 L64.9 433.83 L64.77 435.32 L64.65 436.82 L64.53 438.32 L64.4 439.82 L64.28 441.31 L64.16 442.81 L64.05 444.31 L63.93 445.81 L63.81 447.3 L63.7 448.8 L63.58 450.3 L63.47 451.8 L63.36 453.29 L63.25 454.79 L63.14 456.29 L63.03 457.79 L62.92 459.29 L62.81 460.78 L62.71 462.28 L62.6 463.78 L62.5 465.28 L62.39 466.78 L62.29 468.28 L62.19 469.78 L62.09 471.27 L61.99 472.77 L61.89 474.27 L61.8 475.77 L61.7 477.27 L61.61 478.77 L61.51 480.27 L61.42 481.77 L61.33 483.27 L61.24 484.77 L61.14 486.27 L61.06 487.76 L60.97 489.26 L60.88 490.76 L60.79 492.26 L60.71 493.76 L60.62 495.26 L60.54 496.76 L60.46 498.26 L60.38 499.76 L60.3 501.26 L60.22 502.76 L60.14 504.26 L60.06 505.76 L59.98 507.26 L59.91 508.76 L59.83 510.26 L59.76 511.76 L59.69 513.26 L59.61 514.76 L59.54 516.26 L59.47 517.76 L59.4 519.27 L59.33 520.77 L59.27 522.27 L59.2 523.77 L59.14 525.27 L59.07 526.77 L59.01 528.27 L58.95 529.77 L58.88 531.27 L58.82 532.77 L58.76 534.27 L58.7 535.77 L58.65 537.28 L58.59 538.78 L58.53 540.28 L58.48 541.78 L58.42 543.28 L58.37 544.78 L58.32 546.28 L58.27 547.78 L58.22 549.29 L58.17 550.79 L58.12 552.29 L58.07 553.79 L58.02 555.29 L57.98 556.79 L57.93 558.29 L57.89 559.8 L57.84 561.3 L57.8 562.8 L57.76 564.3 L57.72 565.8 L57.68 567.3 L57.64 568.81 L57.6 570.31 L57.56 571.81 L57.53 573.31 L57.49 574.81 L57.46 576.32 L57.42 577.82 L57.39 579.32 L57.36 580.82 L57.33 582.32 L57.3 583.83 L57.27 585.33 L57.24 586.83 L57.21 588.33 L57.19 589.84 L57.16 591.34 L57.14 592.84 L57.11 594.34 L57.09 595.84 L57.07 597.35 L57.04 598.85 L57.02 600.35 L57 601.85 L56.99 603.36 L56.97 604.86 L56.95 606.36 L56.93 607.86 L56.92 609.37 L56.9 610.87 L56.89 612.37 L56.88 613.87 L56.86 615.38 L56.85 616.88 L56.84 618.38 L56.83 619.88 L56.82 621.39 L56.82 622.89 L56.81 624.39 L56.8 625.9 L56.8 627.4 L56.79 628.9 L56.79 630.4 L56.79 631.91 L56.78 633.41 L56.78 634.91 L56.78 636.41 L56.78 637.92 L56.78 639.42 L56.78 640.92 L56.79 642.43 L56.79 643.93 L56.8 645.43 L56.8 646.93 L56.81 648.44 L56.81 649.94 L56.82 651.44 L56.83 652.95 L56.84 654.45 L56.85 655.95 L56.86 657.45 L56.87 658.96 L56.88 660.46 L56.9 661.96 L56.91 663.46 L56.92 664.97 L56.94 666.47 L56.96 667.97 L56.97 669.48 L56.99 670.98 L57.01 672.48 L57.03 673.98 L57.05 675.49 L57.07 676.99 L57.09 678.49 L57.11 680 L57.14 681.5 L57.16 683 L57.19 684.5 L57.21 686.01 L57.24 687.51 L57.26 689.01 L57.29 690.52 L57.32 692.02 L57.35 693.52 L57.38 695.02 L57.41 696.53 L57.45 698.03 L57.48 699.53 L57.51 701.03 L57.55 702.54 L57.58 704.04 L57.62 705.54 L57.66 707.04 L57.69 708.55 L57.73 710.05 L57.77 711.55 L57.81 713.05 L57.86 714.56 L57.9 716.06 L57.94 717.56 L57.99 719.06 L58.03 720.56 L58.08 722.07 L58.13 723.57 L58.18 725.07 L58.23 726.57 L58.28 728.07 L58.33 729.58 L58.38 731.08 L58.43 732.58 L58.49 734.08 L58.54 735.58 L58.6 737.08 L58.66 738.59 L58.72 740.09 L58.78 741.59 L58.84 743.09 L58.9 744.59 L58.96 746.09 L59.03 747.59 L59.09 749.09 L59.16 750.59 L59.22 752.09 L59.29 753.6 L59.36 755.1 L59.43 756.6 L59.5 758.1 L59.58 759.6 L59.65 761.1 L59.73 762.6 L59.8 764.1 L59.88 765.6 L59.96 767.1 L60.04 768.6 L60.12 770.1 L60.2 771.6 L60.28 773.1 L60.36 774.6 L60.45 776.1 L60.53 777.6 L60.62 779.1 L60.7 780.59 L60.79 782.09 L60.88 783.59 L60.97 785.09 L61.06 786.59 L61.15 788.09 L61.24 789.59 L61.33 791.09 L61.42 792.59 L61.51 794.09 L61.61 795.59 L61.7 797.09 L61.79 798.58 L61.89 800.08 L61.98 801.58 L62.08 803.08 L62.18 804.58 L62.27 806.08 L62.37 807.58 L62.47 809.08 L62.56 810.58 L62.66 812.07 L62.76 813.57 L62.86 815.07 L62.95 816.57 L63.05 818.07 L63.15 819.57 L63.25 821.07 L63.35 822.57 L63.45 824.07 L63.55 825.57 L63.65 827.06 L63.74 828.56 L63.84 830.06 L63.94 831.56 L64.04 833.06 L64.14 834.56 L64.24 836.06 L64.34 837.56 L64.43 839.06 L64.53 840.56 L64.63 842.06 L64.73 843.56 L64.82 845.06 L64.92 846.56 L65.02 848.06 L65.11 849.56 L65.21 851.06 L65.3 852.56 L65.4 854.06 L65.49 855.56 L65.59 857.06 L65.68 858.56 L65.77 860.06 L65.87 861.56 L65.96 863.06 L66.05 864.56 L66.14 866.06 L66.23 867.56 L66.32 869.06 L66.41 870.56 L66.49 872.07 L66.58 873.57 L66.67 875.07 L66.75 876.57 L66.84 878.07 L66.92 879.57 L67 881.08 L67.08 882.58 L67.16 884.08 L67.24 885.58 L67.32 887.08 L67.4 888.59 L67.48 890.09 L67.56 891.59 L67.64 893.09 L67.72 894.6 L67.8 896.1 L67.88 897.6 L67.96 899.1 L68.05 900.61 L68.13 902.11 L68.21 903.61 L68.3 905.11 L68.38 906.61 L68.47 908.12 L68.56 909.62 L68.65 911.12 L68.74 912.62 L68.84 914.12 L68.93 915.62 L69.03 917.12 L69.13 918.62 L69.24 920.12 L69.34 921.62 L69.45 923.12 L69.56 924.62 L69.68 926.11 L69.79 927.61 L69.91 929.11 L70.04 930.61 L70.16 932.1 L70.29 933.6 L70.43 935.09 L70.57 936.59 L70.71 938.08 L70.85 939.58 L71 941.07 L71.16 942.56 L71.32 944.06 L71.48 945.55 L71.65 947.04 L71.82 948.53 L72 950.02 L72.19 951.51 L72.37 953 L72.57 954.48 L72.77 955.97 L72.97 957.46 L73.18 958.94 L73.4 960.43 L73.62 961.91 L73.85 963.39 L74.09 964.88 L74.33 966.36 L74.58 967.84 L74.83 969.32 L75.09 970.8 L75.36 972.27 L75.64 973.75 L75.92 975.23 L76.21 976.7 L76.51 978.18 L76.81 979.65 L77.13 981.12 L77.45 982.59 L77.78 984.06 L78.11 985.53 L78.46 987 L78.81 988.47 L79.17 989.93 L79.54 991.4 L79.93 992.86 L80.34 994.3 L80.78 995.73 L81.28 997.12 L81.85 998.47 L82.49 999.78 L83.22 1001.02 L84.06 1002.2 L85.01 1003.3 L86.1 1004.31 L87.33 1005.22 L88.71 1006.03 L90.26 1006.73 L92 1007.3 L186.25 1011.25 C196 1011.5 198.75 1006 198.75 998 L199.3 970 C199.3 961 203 957.3 211.25 957.3 L449 957.3 C457 957.3 461.5 961 461.5 970 L461.5 998 C461.5 1007 465 1011.25 473.75 1011.25 L560 1008.5 L561.58 1008.29 L563.11 1007.97 L564.59 1007.55 L566.01 1007.02 L567.38 1006.41 L568.7 1005.7 L569.96 1004.91 L571.17 1004.05 L572.32 1003.11 L573.43 1002.1 L574.48 1001.03 L575.47 999.91 L576.41 998.73 L577.31 997.5 L578.14 996.24 L578.93 994.94 L579.66 993.6 L580.34 992.25 L580.96 990.87 L581.54 989.47 L582.06 988.07 L582.54 986.64 L582.98 985.21 L583.38 983.77 L583.75 982.32 L584.09 980.86 L584.4 979.39 L584.69 977.92 L584.96 976.45 L585.22 974.97 L585.46 973.49 L585.69 972.01 L585.91 970.53 L586.12 969.04 L586.32 967.56 L586.51 966.07 L586.69 964.58 L586.85 963.09 L587.01 961.6 L587.17 960.11 L587.31 958.62 L587.45 957.12 L587.58 955.63 L587.71 954.13 L587.83 952.63 L587.95 951.14 L588.07 949.64 L588.18 948.14 L588.29 946.64 L588.39 945.14 L588.5 943.64 L588.6 942.15 L588.71 940.65 L588.81 939.15 L588.92 937.65 L589.02 936.15 L589.13 934.65 L589.23 933.15 L589.34 931.65 L589.45 930.15 L589.55 928.65 L589.66 927.15 L589.77 925.65 L589.88 924.15 L589.99 922.65 L590.1 921.15 L590.2 919.66 L590.31 918.16 L590.42 916.66 L590.53 915.16 L590.64 913.66 L590.75 912.16 L590.87 910.66 L590.98 909.16 L591.09 907.66 L591.2 906.16 L591.31 904.66 L591.42 903.17 L591.53 901.67 L591.64 900.17 L591.75 898.67 L591.87 897.17 L591.98 895.67 L592.09 894.17 L592.2 892.67 L592.31 891.17 L592.42 889.67 L592.53 888.18 L592.64 886.68 L592.76 885.18 L592.87 883.68 L592.98 882.18 L593.09 880.68 L593.2 879.18 L593.31 877.68 L593.42 876.18 L593.53 874.69 L593.64 873.19 L593.75 871.69 L593.85 870.19 L593.96 868.69 L594.07 867.19 L594.18 865.69 L594.29 864.19 L594.39 862.69 L594.5 861.19 L594.6 859.7 L594.71 858.2 L594.82 856.7 L594.92 855.2 L595.02 853.7 L595.13 852.2 L595.23 850.7 L595.33 849.2 L595.44 847.7 L595.54 846.2 L595.64 844.71 L595.74 843.21 L595.84 841.71 L595.94 840.21 L596.03 838.71 L596.13 837.21 L596.23 835.71 L596.32 834.21 L596.42 832.71 L596.51 831.21 L596.61 829.71 L596.7 828.21 L596.79 826.71 L596.88 825.21 L596.97 823.71 L597.06 822.22 L597.15 820.72 L597.24 819.22 L597.33 817.72 L597.41 816.22 L597.5 814.72 L597.58 813.22 L597.66 811.72 L597.75 810.22 L597.83 808.72 L597.91 807.22 L597.99 805.72 L598.06 804.22 L598.14 802.72 L598.22 801.22 L598.29 799.72 L598.36 798.22 L598.44 796.72 L598.51 795.22 L598.58 793.72 L598.65 792.22 L598.72 790.72 L598.79 789.22 L598.85 787.72 L598.92 786.22 L598.98 784.72 L599.05 783.22 L599.11 781.72 L599.17 780.22 L599.23 778.72 L599.29 777.22 L599.35 775.72 L599.41 774.22 L599.47 772.72 L599.53 771.22 L599.58 769.71 L599.64 768.21 L599.69 766.71 L599.74 765.21 L599.8 763.71 L599.85 762.21 L599.9 760.71 L599.95 759.21 L600 757.71 L600.05 756.21 L600.09 754.71 L600.14 753.21 L600.18 751.71 L600.23 750.2 L600.27 748.7 L600.32 747.2 L600.36 745.7 L600.4 744.2 L600.44 742.7 L600.48 741.2 L600.52 739.7 L600.56 738.2 L600.6 736.7 L600.63 735.19 L600.67 733.69 L600.7 732.19 L600.74 730.69 L600.77 729.19 L600.81 727.69 L600.84 726.19 L600.87 724.68 L600.9 723.18 L600.93 721.68 L600.96 720.18 L600.99 718.68 L601.02 717.18 L601.04 715.68 L601.07 714.17 L601.1 712.67 L601.12 711.17 L601.15 709.67 L601.17 708.17 L601.2 706.67 L601.22 705.16 L601.24 703.66 L601.26 702.16 L601.28 700.66 L601.3 699.16 L601.32 697.66 L601.34 696.15 L601.36 694.65 L601.38 693.15 L601.4 691.65 L601.41 690.15 L601.43 688.64 L601.44 687.14 L601.46 685.64 L601.47 684.14 L601.49 682.64 L601.5 681.13 L601.51 679.63 L601.52 678.13 L601.54 676.63 L601.55 675.12 L601.56 673.62 L601.57 672.12 L601.58 670.62 L601.59 669.12 L601.59 667.61 L601.6 666.11 L601.61 664.61 L601.62 663.11 L601.62 661.6 L601.63 660.1 L601.63 658.6 L601.64 657.1 L601.64 655.59 L601.65 654.09 L601.65 652.59 L601.65 651.09 L601.66 649.58 L601.66 648.08 L601.66 646.58 L601.66 645.08 L601.66 643.57 L601.66 642.07 L601.66 640.57 L601.66 639.07 L601.66 637.56 L601.66 636.06 L601.66 634.56 L601.66 633.05 L601.66 631.55 L601.66 630.05 L601.65 628.55 L601.65 627.04 L601.65 625.54 L601.64 624.04 L601.64 622.53 L601.63 621.03 L601.63 619.53 L601.62 618.03 L601.62 616.52 L601.61 615.02 L601.6 613.52 L601.6 612.01 L601.59 610.51 L601.58 609.01 L601.57 607.5 L601.56 606 L601.55 604.5 L601.54 603 L601.53 601.49 L601.52 599.99 L601.51 598.49 L601.5 596.98 L601.49 595.48 L601.48 593.98 L601.46 592.47 L601.45 590.97 L601.44 589.47 L601.42 587.97 L601.41 586.46 L601.39 584.96 L601.37 583.46 L601.36 581.95 L601.34 580.45 L601.32 578.95 L601.3 577.44 L601.28 575.94 L601.26 574.44 L601.24 572.94 L601.22 571.43 L601.2 569.93 L601.18 568.43 L601.16 566.92 L601.13 565.42 L601.11 563.92 L601.09 562.41 L601.06 560.91 L601.03 559.41 L601.01 557.91 L600.98 556.4 L600.95 554.9 L600.93 553.4 L600.9 551.89 L600.87 550.39 L600.84 548.89 L600.81 547.39 L600.77 545.88 L600.74 544.38 L600.71 542.88 L600.68 541.38 L600.64 539.87 L600.61 538.37 L600.57 536.87 L600.53 535.37 L600.5 533.86 L600.46 532.36 L600.42 530.86 L600.38 529.36 L600.34 527.85 L600.3 526.35 L600.26 524.85 L600.21 523.35 L600.17 521.85 L600.13 520.34 L600.08 518.84 L600.04 517.34 L599.99 515.84 L599.94 514.34 L599.89 512.83 L599.85 511.33 L599.8 509.83 L599.75 508.33 L599.69 506.83 L599.64 505.32 L599.59 503.82 L599.53 502.32 L599.48 500.82 L599.42 499.32 L599.37 497.82 L599.31 496.32 L599.25 494.81 L599.19 493.31 L599.13 491.81 L599.07 490.31 L599.01 488.81 L598.95 487.31 L598.88 485.81 L598.82 484.31 L598.75 482.81 L598.69 481.3 L598.62 479.8 L598.55 478.3 L598.48 476.8 L598.41 475.3 L598.34 473.8 L598.27 472.3 L598.2 470.8 L598.12 469.3 L598.05 467.8 L597.97 466.3 L597.89 464.8 L597.81 463.3 L597.74 461.8 L597.66 460.3 L597.57 458.8 L597.49 457.3 L597.41 455.8 L597.32 454.3 L597.24 452.8 L597.15 451.3 L597.07 449.8 L596.98 448.3 L596.89 446.8 L596.8 445.3 L596.7 443.81 L596.61 442.31 L596.52 440.81 L596.42 439.31 L596.33 437.81 L596.23 436.31 L596.13 434.81 L596.03 433.31 L595.93 431.81 L595.83 430.32 L595.73 428.82 L595.62 427.32 L595.52 425.82 L595.41 424.32 L595.3 422.83 L595.2 421.33 L595.09 419.83 L594.97 418.33 L594.86 416.84 L594.75 415.34 L594.63 413.84 L594.52 412.34 L594.4 410.85 L594.28 409.35 L594.16 407.85 L594.04 406.35 L593.92 404.86 L593.8 403.36 L593.67 401.86 L593.55 400.37 L593.42 398.87 L593.29 397.38 L593.16 395.88 L593.03 394.38 L592.9 392.89 L592.77 391.39 L592.63 389.9 L592.5 388.4 L592.36 386.9 L592.22 385.41 L592.08 383.91 L591.94 382.42 L591.8 380.92 L591.66 379.43 L591.51 377.93 L591.37 376.44 L591.22 374.94 L591.07 373.45 L590.92 371.96 L590.77 370.46 L590.62 368.97 L590.47 367.47 L590.32 365.98 L590.16 364.49 L590 362.99 L589.84 361.5 L589.69 360 L589.52 358.51 L589.36 357.02 L589.2 355.53 L589.04 354.03 L588.87 352.54 L588.7 351.05 L588.53 349.55 L588.36 348.06 L588.19 346.57 L588.02 345.08 L587.85 343.59 L587.67 342.1 L587.5 340.6 L587.32 339.11 L587.14 337.62 L586.96 336.13 L586.78 334.64 L586.6 333.15 L586.42 331.66 L586.23 330.17 L586.05 328.68 L585.86 327.19 L585.67 325.7 L585.48 324.21 L585.29 322.72 L585.1 321.23 L584.9 319.74 L584.71 318.25 L584.51 316.76 L584.31 315.27 L584.12 313.78 L583.92 312.29 L583.71 310.8 L583.51 309.32 L583.31 307.83 L583.1 306.34 L582.9 304.85 L582.69 303.37 L582.48 301.88 L582.27 300.39 L582.06 298.9 L581.84 297.42 L581.63 295.93 L581.41 294.44 L581.2 292.96 L580.98 291.47 L580.76 289.99 L580.54 288.5 L580.32 287.01 L580.09 285.53 L579.87 284.04 L579.64 282.56 L579.42 281.07 L579.19 279.59 L578.96 278.1 L578.73 276.62 L578.5 275.14 L578.26 273.65 L578.03 272.17 L577.79 270.68 L577.55 269.2 L577.31 267.72 L577.07 266.24 L576.83 264.75 L576.59 263.27 L576.35 261.79 L576.1 260.31 L575.85 258.82 L575.6 257.34 L575.36 255.86 L575.1 254.38 L574.85 252.9 L574.6 251.42 L574.34 249.94 L574.09 248.46 L573.83 246.98 L573.57 245.5 L573.31 244.02 L573.05 242.54 L572.79 241.06 L572.53 239.58 L572.26 238.1 L571.99 236.62 L571.73 235.14 L571.46 233.66 L571.19 232.19 L570.91 230.71 L570.64 229.23 L570.37 227.75 L570.09 226.28 L569.81 224.8 L569.54 223.32 L569.26 221.85 L568.97 220.37 L568.69 218.9 L568.41 217.42 L568.12 215.94 L567.84 214.47 L567.55 212.99 L567.26 211.52 L566.97 210.04 L566.68 208.57 L566.39 207.1 L566.09 205.62 L565.8 204.15 L565.5 202.68 L565.2 201.2 L564.9 199.73 L564.6 198.26 L564.3 196.79 L563.99 195.31 L563.69 193.84 L563.38 192.37 L563.07 190.9 L562.76 189.43 L562.45 187.96 L562.14 186.49 L561.83 185.02 L561.51 183.55 L561.2 182.08 L560.88 180.61 L560.56 179.14 L560.24 177.67 L559.92 176.2 L559.6 174.73 L559.27 173.27 L558.95 171.8 L558.62 170.33 L558.29 168.86 L557.96 167.4 L557.63 165.93 L557.3 164.47 L556.96 163 L556.63 161.53 L556.29 160.07 L555.95 158.61 L555.61 157.14 L555.27 155.68 L554.92 154.21 L554.58 152.75 L554.23 151.29 L553.88 149.83 L553.54 148.36 L553.18 146.9 L552.83 145.44 L552.48 143.98 L552.12 142.52 L551.76 141.06 L551.41 139.6 L551.05 138.14 L550.68 136.69 L550.32 135.23 L549.95 133.77 L549.59 132.31 L549.22 130.86 L548.85 129.4 L548.48 127.94 L548.1 126.49 L547.73 125.04 L547.35 123.58 L546.97 122.13 L546.59 120.67 L546.21 119.22 L545.83 117.77 L545.44 116.32 L545.06 114.87 L544.67 113.42 L544.28 111.97 L543.89 110.52 L543.49 109.07 L543.1 107.62 L542.7 106.17 L542.3 104.72 L541.9 103.28 L541.5 101.83 L541.09 100.38 L540.69 98.94 L540.28 97.49 L539.87 96.05 L539.46 94.61 L539.05 93.16 L538.63 91.72 L538.22 90.28 L537.8 88.84 L537.38 87.4 L536.95 85.96 L536.53 84.52 L536.1 83.08 L535.68 81.64 L535.25 80.21 L534.82 78.77 L534.38 77.34 L533.95 75.9 L533.51 74.47 L533.06 73.03 L532.62 71.6 L532.17 70.17 L531.71 68.74 L531.24 67.32 L530.72 65.91 L530.16 64.52 L529.52 63.14 L528.8 61.79 L527.97 60.48 L527.02 59.2 L525.96 58.02 L524.78 57.02 L523.52 56.32 L522.18 56 L520.78 56.09 L519.37 56.53 L517.97 57.25 L516.63 58.19 L515.37 59.29 L514.25 60.47 L513.26 61.7 L512.4 62.97 L511.63 64.28 L510.94 65.61 L510.3 66.95 L509.71 68.32 L509.13 69.69 L508.55 71.06 L507.96 72.43 L507.37 73.81 L506.78 75.18 L506.2 76.57 L505.62 77.96 L505.06 79.35 L504.5 80.76 L503.97 82.18 L503.46 83.61 L502.98 85.04 L502.52 86.48 L502.1 87.93 L501.71 89.39 L501.37 90.84 L501.06 92.31 L500.79 93.77 L500.54 95.24 L500.3 96.71 L500.06 98.18 L499.82 99.65 L499.58 101.12 L499.31 102.59 L499.04 104.06 L498.75 105.52 L498.46 106.99 L498.15 108.46 L497.83 109.92 L497.5 111.39 L497.17 112.85 L496.82 114.31 L496.47 115.77 L496.11 117.23 L495.75 118.69 L495.37 120.15 L495 121.61 L494.61 123.07 L494.23 124.52 L493.84 125.98 L493.44 127.44 L493.05 128.89 L492.65 130.34 L492.25 131.8 L491.85 133.25 L491.45 134.7 L491.05 136.15 L490.65 137.6 L490.24 139.05 L489.83 140.5 L489.43 141.95 L489.02 143.4 L488.61 144.84 L488.2 146.29 L487.79 147.74 L487.38 149.18 L486.96 150.63 L486.55 152.07 L486.13 153.52 L485.72 154.96 L485.3 156.4 L484.89 157.85 L484.47 159.29 L484.05 160.73 L483.63 162.17 L483.21 163.62 L482.79 165.06 L482.37 166.5 L481.95 167.94 L481.53 169.38 L481.11 170.82 L480.69 172.26 L480.27 173.7 L479.85 175.14 L479.43 176.58 L479 178.02 L478.58 179.47 L478.16 180.91 L477.74 182.35 L477.32 183.79 L476.9 185.23 L476.47 186.67 L476.05 188.11 L475.63 189.55 L475.21 190.99 L474.79 192.43 L474.37 193.87 L473.95 195.31 L473.53 196.75 L473.11 198.19 L472.69 199.63 L472.28 201.08 L471.86 202.52 L471.44 203.96 L471.03 205.4 L470.61 206.85 L470.2 208.29 L469.78 209.73 L469.37 211.18 L468.96 212.62 L468.55 214.07 L468.14 215.51 L467.73 216.96 L467.32 218.41 L466.91 219.85 L466.51 221.3 L466.1 222.75 L465.7 224.2 L465.3 225.65 L464.9 227.1 L464.5 228.55 L464.1 230 C460.59 243.5 451.2 246.22 443.2 244.3 C382.2 230 339.2 223.6 329.2 223.6 Z" fill="#fff"/>
<g clip-path="url(#hc)">
<g><path d="M109.25 187 C107.19 197.5 100.81 227.83 96.9 250 C92.99 272.17 88.78 298.33 85.8 320 C82.82 341.67 80.5 365.83 79 380 C77.5 394.17 77.17 400.83 76.8 405 L40 405 L40 848.6 L236.7 848.6 L236.7 651 L199 651 L199 400 L240.3 400 L208.75 262.5 L193.75 264.5 L175.5 187 Z" fill="#a1d8e5"/>
<path d="M109.25 187 C107.19 197.5 100.81 227.83 96.9 250 C92.99 272.17 88.45 302.67 85.8 320 C83.15 337.33 81.8 348.33 81 354 L210.2 354 L170.2 187 Z" fill="#84bcc8"/>
<path d="M40 405 L104.5 405 L148.5 432.2 L148.5 613.4 L102.5 639.2 L40 639.2 Z" fill="#cfdf97"/>
<rect x="148.5" y="466" width="51" height="115.5" fill="#fbd88a"/>
<path d="M87.4 848.6 L87.4 753.7 L82.1 753.7 L101.8 693.9 C104.3 686.4 110.5 679.7 119.9 679.7 L179.7 679.7 C189.1 679.7 192.2 686.4 194.7 693.9 L214.4 753.7 L210.8 753.7 L210.8 848.6 Z" fill="#84bcc8"/>
<path d="M109.25 187 C107.19 197.5 100.81 227.83 96.9 250 C92.99 272.17 88.78 298.33 85.8 320 C82.82 341.67 80.5 365.83 79 380 C77.5 394.17 77.17 400.83 76.8 405" fill="none" stroke="#1c1c1a" stroke-width="1.8"/>
<path d="M40 186.2 L190 186.2" stroke="#1c1c1a" stroke-width="1.8"/>
<path d="M170.2 187 L221 400" stroke="#1c1c1a" stroke-width="1.8"/>
<path d="M175.5 187 L194.7 264.7 L208.75 262.5 L240.3 400" fill="none" stroke="#1c1c1a" stroke-width="1.8"/>
<path d="M81.8 354 L210.2 354" stroke="#1c1c1a" stroke-width="1.8"/>
<path d="M40 405 L104.5 405 L148.5 432.2 L148.5 613.4 L102.5 639.2 L40 639.2" fill="none" stroke="#1c1c1a" stroke-width="1.8"/>
<path d="M148.5 466 L199 466" stroke="#1c1c1a" stroke-width="1.8"/>
<path d="M148.5 581.5 L199 581.5" stroke="#1c1c1a" stroke-width="1.8"/>
<path d="M40 523.4 L148.5 523.4" stroke="#1c1c1a" stroke-width="1.2"/>
<path d="M40 493.8 L74.5 493.8 L100.5 518.2 L100.5 528.2 L75 554.5 L40 554.5" fill="#fff" stroke="#1c1c1a" stroke-width="1.6"/>
<path d="M40 523.4 L100.5 523.4" stroke="#1c1c1a" stroke-width="2"/>
<path d="M91.2 405 L91.2 424.8" stroke="#1c1c1a" stroke-width="1.8"/>
<rect x="76.1" y="424.8" width="20.6" height="44" rx="1.5" fill="none" stroke="#1c1c1a" stroke-width="1.8"/>
<path d="M85.5 468.8 L85.5 503.2" stroke="#1c1c1a" stroke-width="1.8"/>
<path d="M85.5 545 L85.5 578" stroke="#1c1c1a" stroke-width="1.8"/>
<rect x="76.1" y="578" width="20.6" height="44" rx="1.5" fill="none" stroke="#1c1c1a" stroke-width="1.8"/>
<path d="M91.2 622 L91.2 651.4 L73 651.4 L73 753.7 L87.4 753.7 L87.4 849" fill="none" stroke="#1c1c1a" stroke-width="1.8"/>
<path d="M110 436.1 L128.8 453.3" stroke="#1c1c1a" stroke-width="1.8"/>
<path d="M131.6 433.3 L131.6 452.7" stroke="#1c1c1a" stroke-width="1.8"/>
<path d="M108.2 457 L127.9 457" stroke="#1c1c1a" stroke-width="1.8"/>
<path d="M108 588 L127.5 588" stroke="#1c1c1a" stroke-width="1.8"/>
<path d="M110 609.5 L128.8 591.8" stroke="#1c1c1a" stroke-width="1.8"/>
<path d="M131.5 592.2 L131.5 612.4" stroke="#1c1c1a" stroke-width="1.8"/>
<path d="M110.8 509.5 C106.5 506 105.2 501.5 105.2 496.8 C105.2 489 111.5 483.3 118.9 483.3 C126.3 483.3 132.6 489 132.6 496.8 C132.6 501.5 131.3 506 127.4 509.5" fill="none" stroke="#1c1c1a" stroke-width="1.8"/>
<rect x="110" y="508.9" width="18.3" height="7.8" fill="#1c1c1a"/>
<path d="M110.8 537.9 C106.5 541.4 105.2 545.9 105.2 550.6 C105.2 558.4 111.5 564.1 118.9 564.1 C126.3 564.1 132.6 558.4 132.6 550.6 C132.6 545.9 131.3 541.4 127.4 537.9" fill="none" stroke="#1c1c1a" stroke-width="1.8"/>
<rect x="110" y="530.7" width="18.3" height="7.8" fill="#1c1c1a"/>
<path d="M82.1 753.7 L101.8 693.9 C104.3 686.4 110.5 679.7 119.9 679.7 L179.7 679.7 C189.1 679.7 192.2 686.4 194.7 693.9 L214.4 753.7 L223 753.7 L223 651.3 M210.8 753.7 L210.8 849 M236.7 651.3 L236.7 849" fill="none" stroke="#1c1c1a" stroke-width="1.8"/>
<path d="M40 848.6 L236.7 848.6" stroke="#1c1c1a" stroke-width="1.8"/>
<path d="M89.5 317.6 L160 298.2 C165 296.8 170 296.3 174 297.3 C180 299 186 302 191.4 306.4 Z" fill="#fff" stroke="#1c1c1a" stroke-width="1.6"/>
<rect x="112.25" y="323.7" width="24.75" height="24.4" rx="3.5" fill="#fff" stroke="#1c1c1a" stroke-width="2"/>
<rect x="147.5" y="323.7" width="24.7" height="24.4" rx="3.5" fill="#fff" stroke="#1c1c1a" stroke-width="2"/>
<path d="M95.5 805.8 L166 786.4 C171 785 176 784.5 180 785.5 C186 787.2 192 790.2 197.4 794.6 Z" fill="#fff" stroke="#1c1c1a" stroke-width="1.6"/>
<rect x="118.7" y="812.4" width="24.5" height="24.1" rx="3.5" fill="#fff" stroke="#1c1c1a" stroke-width="2"/>
<rect x="153.6" y="812.4" width="24.7" height="24.1" rx="3.5" fill="#fff" stroke="#1c1c1a" stroke-width="2"/></g>
<g transform="matrix(-1 0 0 1 659.2 0)"><path d="M109.25 187 C107.19 197.5 100.81 227.83 96.9 250 C92.99 272.17 88.78 298.33 85.8 320 C82.82 341.67 80.5 365.83 79 380 C77.5 394.17 77.17 400.83 76.8 405 L40 405 L40 848.6 L236.7 848.6 L236.7 651 L199 651 L199 400 L240.3 400 L208.75 262.5 L193.75 264.5 L175.5 187 Z" fill="#a1d8e5"/>
<path d="M109.25 187 C107.19 197.5 100.81 227.83 96.9 250 C92.99 272.17 88.45 302.67 85.8 320 C83.15 337.33 81.8 348.33 81 354 L210.2 354 L170.2 187 Z" fill="#84bcc8"/>
<path d="M40 405 L104.5 405 L148.5 432.2 L148.5 613.4 L102.5 639.2 L40 639.2 Z" fill="#cfdf97"/>
<rect x="148.5" y="466" width="51" height="115.5" fill="#fbd88a"/>
<path d="M87.4 848.6 L87.4 753.7 L82.1 753.7 L101.8 693.9 C104.3 686.4 110.5 679.7 119.9 679.7 L179.7 679.7 C189.1 679.7 192.2 686.4 194.7 693.9 L214.4 753.7 L210.8 753.7 L210.8 848.6 Z" fill="#84bcc8"/>
<path d="M109.25 187 C107.19 197.5 100.81 227.83 96.9 250 C92.99 272.17 88.78 298.33 85.8 320 C82.82 341.67 80.5 365.83 79 380 C77.5 394.17 77.17 400.83 76.8 405" fill="none" stroke="#1c1c1a" stroke-width="1.8"/>
<path d="M40 186.2 L190 186.2" stroke="#1c1c1a" stroke-width="1.8"/>
<path d="M170.2 187 L221 400" stroke="#1c1c1a" stroke-width="1.8"/>
<path d="M175.5 187 L194.7 264.7 L208.75 262.5 L240.3 400" fill="none" stroke="#1c1c1a" stroke-width="1.8"/>
<path d="M81.8 354 L210.2 354" stroke="#1c1c1a" stroke-width="1.8"/>
<path d="M40 405 L104.5 405 L148.5 432.2 L148.5 613.4 L102.5 639.2 L40 639.2" fill="none" stroke="#1c1c1a" stroke-width="1.8"/>
<path d="M148.5 466 L199 466" stroke="#1c1c1a" stroke-width="1.8"/>
<path d="M148.5 581.5 L199 581.5" stroke="#1c1c1a" stroke-width="1.8"/>
<path d="M40 523.4 L148.5 523.4" stroke="#1c1c1a" stroke-width="1.2"/>
<path d="M40 493.8 L74.5 493.8 L100.5 518.2 L100.5 528.2 L75 554.5 L40 554.5" fill="#fff" stroke="#1c1c1a" stroke-width="1.6"/>
<path d="M40 523.4 L100.5 523.4" stroke="#1c1c1a" stroke-width="2"/>
<path d="M91.2 405 L91.2 424.8" stroke="#1c1c1a" stroke-width="1.8"/>
<rect x="76.1" y="424.8" width="20.6" height="44" rx="1.5" fill="none" stroke="#1c1c1a" stroke-width="1.8"/>
<path d="M85.5 468.8 L85.5 503.2" stroke="#1c1c1a" stroke-width="1.8"/>
<path d="M85.5 545 L85.5 578" stroke="#1c1c1a" stroke-width="1.8"/>
<rect x="76.1" y="578" width="20.6" height="44" rx="1.5" fill="none" stroke="#1c1c1a" stroke-width="1.8"/>
<path d="M91.2 622 L91.2 651.4 L73 651.4 L73 753.7 L87.4 753.7 L87.4 849" fill="none" stroke="#1c1c1a" stroke-width="1.8"/>
<path d="M110 436.1 L128.8 453.3" stroke="#1c1c1a" stroke-width="1.8"/>
<path d="M131.6 433.3 L131.6 452.7" stroke="#1c1c1a" stroke-width="1.8"/>
<path d="M108.2 457 L127.9 457" stroke="#1c1c1a" stroke-width="1.8"/>
<path d="M108 588 L127.5 588" stroke="#1c1c1a" stroke-width="1.8"/>
<path d="M110 609.5 L128.8 591.8" stroke="#1c1c1a" stroke-width="1.8"/>
<path d="M131.5 592.2 L131.5 612.4" stroke="#1c1c1a" stroke-width="1.8"/>
<path d="M110.8 509.5 C106.5 506 105.2 501.5 105.2 496.8 C105.2 489 111.5 483.3 118.9 483.3 C126.3 483.3 132.6 489 132.6 496.8 C132.6 501.5 131.3 506 127.4 509.5" fill="none" stroke="#1c1c1a" stroke-width="1.8"/>
<rect x="110" y="508.9" width="18.3" height="7.8" fill="#1c1c1a"/>
<path d="M110.8 537.9 C106.5 541.4 105.2 545.9 105.2 550.6 C105.2 558.4 111.5 564.1 118.9 564.1 C126.3 564.1 132.6 558.4 132.6 550.6 C132.6 545.9 131.3 541.4 127.4 537.9" fill="none" stroke="#1c1c1a" stroke-width="1.8"/>
<rect x="110" y="530.7" width="18.3" height="7.8" fill="#1c1c1a"/>
<path d="M82.1 753.7 L101.8 693.9 C104.3 686.4 110.5 679.7 119.9 679.7 L179.7 679.7 C189.1 679.7 192.2 686.4 194.7 693.9 L214.4 753.7 L223 753.7 L223 651.3 M210.8 753.7 L210.8 849 M236.7 651.3 L236.7 849" fill="none" stroke="#1c1c1a" stroke-width="1.8"/>
<path d="M40 848.6 L236.7 848.6" stroke="#1c1c1a" stroke-width="1.8"/>
<path d="M89.5 317.6 L160 298.2 C165 296.8 170 296.3 174 297.3 C180 299 186 302 191.4 306.4 Z" fill="#fff" stroke="#1c1c1a" stroke-width="1.6"/>
<rect x="112.25" y="323.7" width="24.75" height="24.4" rx="3.5" fill="#fff" stroke="#1c1c1a" stroke-width="2"/>
<rect x="147.5" y="323.7" width="24.7" height="24.4" rx="3.5" fill="#fff" stroke="#1c1c1a" stroke-width="2"/>
<path d="M95.5 805.8 L166 786.4 C171 785 176 784.5 180 785.5 C186 787.2 192 790.2 197.4 794.6 Z" fill="#fff" stroke="#1c1c1a" stroke-width="1.6"/>
<rect x="118.7" y="812.4" width="24.5" height="24.1" rx="3.5" fill="#fff" stroke="#1c1c1a" stroke-width="2"/>
<rect x="153.6" y="812.4" width="24.7" height="24.1" rx="3.5" fill="#fff" stroke="#1c1c1a" stroke-width="2"/></g>
</g>
<rect x="199" y="400" width="261.5" height="251.2" fill="#fff"/>
<path d="M199 471.5 L260 471.5 L296 417.3 L308 417.3 L280 460.5 L305.6 476.5 L412.2 476.5 L412.2 530 L460.5 530 L460.5 580.6 L412.7 580.6 L412.7 651.2 L324.5 651.2 L324.5 593 L226.1 593 L226.1 520.8 L199 520.8 Z" fill="#fbd88a"/>
<path d="M203 471.5 L194.5 471.5 C190.5 471.5 189.5 472.5 189.5 476.5 L189.5 515.2 C189.5 519.2 190.5 520.2 194.5 520.2 L203 520.2 Z" fill="#fbd88a" stroke="#1c1c1a" stroke-width="1.8"/>
<path d="M431.3 530 L467 530 C471.5 530 472.5 531 472.5 535.5 L472.5 574.5 C472.5 579 471.5 580 467 580 L431.3 580 Z" fill="#fbd88a" stroke="#1c1c1a" stroke-width="1.8"/>
<path d="M203 471.5 L203 520.2" stroke="#1c1c1a" stroke-width="1.8"/>
<path d="M225.5 471.5 L212.5 520.2" stroke="#1c1c1a" stroke-width="1.8"/>
<path d="M243.6 471.5 L243.6 480.6 L221.2 520.2" fill="none" stroke="#1c1c1a" stroke-width="1.8"/>
<path d="M445.5 530 L445.5 580" stroke="#1c1c1a" stroke-width="1.8"/>
<path d="M459.6 530 L459.6 580" stroke="#1c1c1a" stroke-width="1.8"/>
<path d="M199 471.5 L199 400 L460.5 400 L460.5 530 M460.5 580.6 L460.5 651.2 L199 651.2 L199 520.8" fill="none" stroke="#1c1c1a" stroke-width="2"/>
<path d="M199 471.5 L260 471.5 L296 417.3 L460.5 417.3" fill="none" stroke="#1c1c1a" stroke-width="2"/>
<path d="M308 417.3 L280 460.5 L305.6 476.5 L460.5 476.5" fill="none" stroke="#1c1c1a" stroke-width="2"/>
<path d="M323 417.3 L323 476.5" stroke="#1c1c1a" stroke-width="1.8"/>
<path d="M323 428.5 L447 428.5 L447 530" fill="none" stroke="#1c1c1a" stroke-width="1.8"/>
<path d="M412.2 417.3 L412.2 530" stroke="#1c1c1a" stroke-width="1.8"/>
<path d="M412.2 530 L460.5 530" stroke="#1c1c1a" stroke-width="1.8"/>
<rect x="326.8" y="483.2" width="80.4" height="48.5" rx="3" fill="#fff" stroke="#1c1c1a" stroke-width="1.8"/>
<path d="M199 520.8 L226.1 520.8 L226.1 593 L324.5 593 L324.5 651.2" fill="none" stroke="#1c1c1a" stroke-width="2"/>
<path d="M199 530.5 L217.7 530.5 C221.7 530.5 222.7 532.5 222.7 535.5 L222.7 562.1 C222.7 565.1 221.7 567.1 217.7 567.1 L199 567.1" fill="none" stroke="#1c1c1a" stroke-width="2"/>
<circle cx="204.3" cy="539.6" r="3.2" fill="none" stroke="#1c1c1a" stroke-width="1.7"/>
<circle cx="215.7" cy="539.6" r="3.2" fill="none" stroke="#1c1c1a" stroke-width="1.7"/>
<circle cx="210" cy="556.6" r="6.1" fill="none" stroke="#1c1c1a" stroke-width="1.8"/>
<rect x="253.6" y="598.2" width="44.9" height="24" rx="3.5" fill="#fff" stroke="#1c1c1a" stroke-width="2"/>
<path d="M279.1 598.2 L279.1 622.2" stroke="#1c1c1a" stroke-width="1.8"/>
<path d="M412.7 651.2 L412.7 580.6 L460.6 580.6" fill="none" stroke="#1c1c1a" stroke-width="2"/>
<path d="M330 223.6 C320 223.6 277 230 216 244.3 C208 246.22 198.61 243.5 195.1 230 L194.66 228.56 L194.22 227.12 L193.8 225.67 L193.38 224.23 L192.96 222.78 L192.56 221.33 L192.16 219.88 L191.76 218.43 L191.37 216.98 L190.98 215.53 L190.6 214.07 L190.22 212.62 L189.85 211.16 L189.47 209.71 L189.1 208.26 L188.73 206.8 L188.36 205.35 L187.99 203.89 L187.62 202.44 L187.25 200.98 L186.88 199.53 L186.51 198.08 L186.13 196.63 L185.75 195.18 L185.38 193.73 L184.99 192.28 L184.61 190.83 L184.21 189.38 L183.82 187.94 L183.42 186.49 L183.01 185.05 L182.6 183.61 L182.18 182.18 L181.75 180.74 L181.31 179.31 L180.87 177.87 L180.42 176.44 L179.97 175.02 L179.5 173.59 L179.04 172.17 L178.57 170.74 L178.09 169.32 L177.61 167.9 L177.13 166.48 L176.64 165.06 L176.15 163.64 L175.66 162.22 L175.17 160.8 L174.68 159.38 L174.19 157.96 L173.7 156.55 L173.21 155.13 L172.73 153.71 L172.24 152.29 L171.76 150.86 L171.28 149.44 L170.81 148.02 L170.34 146.59 L169.87 145.17 L169.41 143.74 L168.96 142.31 L168.51 140.88 L168.07 139.44 L167.64 138.01 L167.22 136.57 L166.81 135.12 L166.4 133.68 L166 132.23 L165.62 130.78 L165.25 129.33 L164.88 127.87 L164.53 126.41 L164.19 124.95 L163.85 123.48 L163.52 122.02 L163.2 120.55 L162.89 119.08 L162.58 117.61 L162.27 116.13 L161.96 114.66 L161.66 113.18 L161.36 111.71 L161.06 110.23 L160.77 108.76 L160.47 107.28 L160.16 105.81 L159.86 104.33 L159.55 102.86 L159.24 101.39 L158.92 99.92 L158.59 98.45 L158.26 96.99 L157.92 95.53 L157.57 94.07 L157.21 92.61 L156.83 91.16 L156.44 89.7 L156.03 88.26 L155.61 86.82 L155.17 85.38 L154.7 83.94 L154.22 82.51 L153.71 81.09 L153.17 79.67 L152.62 78.26 L152.04 76.86 L151.45 75.46 L150.86 74.08 L150.26 72.7 L149.68 71.34 L149.1 70 L148.54 68.67 L147.97 67.35 L147.39 66.03 L146.78 64.69 L146.11 63.34 L145.38 61.96 L144.55 60.55 L143.63 59.09 L142.6 57.64 L141.5 56.32 L140.35 55.23 L139.17 54.47 L137.99 54.15 L136.82 54.36 L135.69 55.06 L134.6 56.13 L133.58 57.45 L132.62 58.91 L131.75 60.4 L130.97 61.84 L130.27 63.24 L129.63 64.61 L129.04 65.97 L128.5 67.31 L127.99 68.66 L127.5 70.02 L127.01 71.4 L126.54 72.81 L126.08 74.23 L125.64 75.68 L125.23 77.13 L124.84 78.6 L124.48 80.07 L124.16 81.55 L123.87 83.03 L123.61 84.52 L123.36 86 L123.12 87.49 L122.88 88.97 L122.65 90.46 L122.41 91.95 L122.16 93.43 L121.91 94.91 L121.65 96.39 L121.39 97.87 L121.12 99.35 L120.85 100.83 L120.57 102.3 L120.29 103.78 L120 105.25 L119.71 106.72 L119.41 108.2 L119.11 109.67 L118.81 111.14 L118.5 112.61 L118.19 114.08 L117.87 115.54 L117.55 117.01 L117.23 118.48 L116.9 119.94 L116.58 121.41 L116.25 122.87 L115.91 124.33 L115.58 125.8 L115.24 127.26 L114.9 128.72 L114.56 130.18 L114.21 131.65 L113.87 133.11 L113.52 134.57 L113.17 136.03 L112.83 137.49 L112.48 138.95 L112.12 140.41 L111.77 141.87 L111.42 143.33 L111.07 144.79 L110.71 146.25 L110.36 147.7 L110.01 149.16 L109.66 150.62 L109.3 152.08 L108.95 153.54 L108.6 155 L108.25 156.46 L107.9 157.92 L107.55 159.38 L107.21 160.85 L106.86 162.31 L106.52 163.77 L106.18 165.23 L105.83 166.69 L105.49 168.16 L105.16 169.62 L104.82 171.08 L104.48 172.55 L104.15 174.01 L103.82 175.48 L103.48 176.94 L103.15 178.41 L102.83 179.87 L102.5 181.34 L102.17 182.8 L101.85 184.27 L101.52 185.74 L101.2 187.2 L100.88 188.67 L100.56 190.14 L100.24 191.61 L99.93 193.07 L99.61 194.54 L99.3 196.01 L98.98 197.48 L98.67 198.95 L98.36 200.42 L98.05 201.89 L97.75 203.36 L97.44 204.83 L97.14 206.3 L96.83 207.77 L96.53 209.25 L96.23 210.72 L95.93 212.19 L95.63 213.66 L95.34 215.14 L95.04 216.61 L94.75 218.08 L94.45 219.56 L94.16 221.03 L93.87 222.5 L93.58 223.98 L93.29 225.45 L93.01 226.93 L92.72 228.4 L92.44 229.88 L92.16 231.35 L91.88 232.83 L91.6 234.31 L91.32 235.78 L91.04 237.26 L90.76 238.74 L90.49 240.21 L90.21 241.69 L89.94 243.17 L89.67 244.65 L89.4 246.13 L89.13 247.6 L88.87 249.08 L88.6 250.56 L88.33 252.04 L88.07 253.52 L87.81 255 L87.55 256.48 L87.29 257.96 L87.03 259.44 L86.77 260.92 L86.52 262.4 L86.26 263.89 L86.01 265.37 L85.76 266.85 L85.51 268.33 L85.26 269.81 L85.01 271.3 L84.76 272.78 L84.51 274.26 L84.27 275.74 L84.03 277.23 L83.78 278.71 L83.54 280.19 L83.3 281.68 L83.06 283.16 L82.83 284.65 L82.59 286.13 L82.36 287.62 L82.12 289.1 L81.89 290.59 L81.66 292.07 L81.43 293.56 L81.2 295.04 L80.97 296.53 L80.74 298.01 L80.52 299.5 L80.29 300.99 L80.07 302.47 L79.85 303.96 L79.63 305.45 L79.41 306.93 L79.19 308.42 L78.97 309.91 L78.76 311.4 L78.54 312.88 L78.33 314.37 L78.12 315.86 L77.91 317.35 L77.7 318.84 L77.49 320.33 L77.28 321.81 L77.07 323.3 L76.87 324.79 L76.66 326.28 L76.46 327.77 L76.26 329.26 L76.06 330.75 L75.86 332.24 L75.66 333.73 L75.46 335.22 L75.27 336.71 L75.07 338.2 L74.88 339.69 L74.69 341.18 L74.5 342.67 L74.3 344.17 L74.12 345.66 L73.93 347.15 L73.74 348.64 L73.55 350.13 L73.37 351.62 L73.19 353.11 L73 354.61 L72.82 356.1 L72.64 357.59 L72.46 359.08 L72.29 360.58 L72.11 362.07 L71.93 363.56 L71.76 365.05 L71.58 366.55 L71.41 368.04 L71.24 369.53 L71.07 371.03 L70.9 372.52 L70.73 374.01 L70.57 375.51 L70.4 377 L70.24 378.49 L70.07 379.99 L69.91 381.48 L69.75 382.98 L69.59 384.47 L69.43 385.96 L69.27 387.46 L69.11 388.95 L68.96 390.45 L68.8 391.94 L68.65 393.44 L68.5 394.93 L68.34 396.43 L68.19 397.92 L68.04 399.42 L67.9 400.91 L67.75 402.41 L67.6 403.9 L67.46 405.4 L67.31 406.89 L67.17 408.39 L67.03 409.88 L66.89 411.38 L66.75 412.88 L66.61 414.37 L66.47 415.87 L66.33 417.36 L66.2 418.86 L66.06 420.36 L65.93 421.85 L65.8 423.35 L65.66 424.85 L65.53 426.34 L65.4 427.84 L65.28 429.34 L65.15 430.83 L65.02 432.33 L64.9 433.83 L64.77 435.32 L64.65 436.82 L64.53 438.32 L64.4 439.82 L64.28 441.31 L64.16 442.81 L64.05 444.31 L63.93 445.81 L63.81 447.3 L63.7 448.8 L63.58 450.3 L63.47 451.8 L63.36 453.29 L63.25 454.79 L63.14 456.29 L63.03 457.79 L62.92 459.29 L62.81 460.78 L62.71 462.28 L62.6 463.78 L62.5 465.28 L62.39 466.78 L62.29 468.28 L62.19 469.78 L62.09 471.27 L61.99 472.77 L61.89 474.27 L61.8 475.77 L61.7 477.27 L61.61 478.77 L61.51 480.27 L61.42 481.77 L61.33 483.27 L61.24 484.77 L61.14 486.27 L61.06 487.76 L60.97 489.26 L60.88 490.76 L60.79 492.26 L60.71 493.76 L60.62 495.26 L60.54 496.76 L60.46 498.26 L60.38 499.76 L60.3 501.26 L60.22 502.76 L60.14 504.26 L60.06 505.76 L59.98 507.26 L59.91 508.76 L59.83 510.26 L59.76 511.76 L59.69 513.26 L59.61 514.76 L59.54 516.26 L59.47 517.76 L59.4 519.27 L59.33 520.77 L59.27 522.27 L59.2 523.77 L59.14 525.27 L59.07 526.77 L59.01 528.27 L58.95 529.77 L58.88 531.27 L58.82 532.77 L58.76 534.27 L58.7 535.77 L58.65 537.28 L58.59 538.78 L58.53 540.28 L58.48 541.78 L58.42 543.28 L58.37 544.78 L58.32 546.28 L58.27 547.78 L58.22 549.29 L58.17 550.79 L58.12 552.29 L58.07 553.79 L58.02 555.29 L57.98 556.79 L57.93 558.29 L57.89 559.8 L57.84 561.3 L57.8 562.8 L57.76 564.3 L57.72 565.8 L57.68 567.3 L57.64 568.81 L57.6 570.31 L57.56 571.81 L57.53 573.31 L57.49 574.81 L57.46 576.32 L57.42 577.82 L57.39 579.32 L57.36 580.82 L57.33 582.32 L57.3 583.83 L57.27 585.33 L57.24 586.83 L57.21 588.33 L57.19 589.84 L57.16 591.34 L57.14 592.84 L57.11 594.34 L57.09 595.84 L57.07 597.35 L57.04 598.85 L57.02 600.35 L57 601.85 L56.99 603.36 L56.97 604.86 L56.95 606.36 L56.93 607.86 L56.92 609.37 L56.9 610.87 L56.89 612.37 L56.88 613.87 L56.86 615.38 L56.85 616.88 L56.84 618.38 L56.83 619.88 L56.82 621.39 L56.82 622.89 L56.81 624.39 L56.8 625.9 L56.8 627.4 L56.79 628.9 L56.79 630.4 L56.79 631.91 L56.78 633.41 L56.78 634.91 L56.78 636.41 L56.78 637.92 L56.78 639.42 L56.78 640.92 L56.79 642.43 L56.79 643.93 L56.8 645.43 L56.8 646.93 L56.81 648.44 L56.81 649.94 L56.82 651.44 L56.83 652.95 L56.84 654.45 L56.85 655.95 L56.86 657.45 L56.87 658.96 L56.88 660.46 L56.9 661.96 L56.91 663.46 L56.92 664.97 L56.94 666.47 L56.96 667.97 L56.97 669.48 L56.99 670.98 L57.01 672.48 L57.03 673.98 L57.05 675.49 L57.07 676.99 L57.09 678.49 L57.11 680 L57.14 681.5 L57.16 683 L57.19 684.5 L57.21 686.01 L57.24 687.51 L57.26 689.01 L57.29 690.52 L57.32 692.02 L57.35 693.52 L57.38 695.02 L57.41 696.53 L57.45 698.03 L57.48 699.53 L57.51 701.03 L57.55 702.54 L57.58 704.04 L57.62 705.54 L57.66 707.04 L57.69 708.55 L57.73 710.05 L57.77 711.55 L57.81 713.05 L57.86 714.56 L57.9 716.06 L57.94 717.56 L57.99 719.06 L58.03 720.56 L58.08 722.07 L58.13 723.57 L58.18 725.07 L58.23 726.57 L58.28 728.07 L58.33 729.58 L58.38 731.08 L58.43 732.58 L58.49 734.08 L58.54 735.58 L58.6 737.08 L58.66 738.59 L58.72 740.09 L58.78 741.59 L58.84 743.09 L58.9 744.59 L58.96 746.09 L59.03 747.59 L59.09 749.09 L59.16 750.59 L59.22 752.09 L59.29 753.6 L59.36 755.1 L59.43 756.6 L59.5 758.1 L59.58 759.6 L59.65 761.1 L59.73 762.6 L59.8 764.1 L59.88 765.6 L59.96 767.1 L60.04 768.6 L60.12 770.1 L60.2 771.6 L60.28 773.1 L60.36 774.6 L60.45 776.1 L60.53 777.6 L60.62 779.1 L60.7 780.59 L60.79 782.09 L60.88 783.59 L60.97 785.09 L61.06 786.59 L61.15 788.09 L61.24 789.59 L61.33 791.09 L61.42 792.59 L61.51 794.09 L61.61 795.59 L61.7 797.09 L61.79 798.58 L61.89 800.08 L61.98 801.58 L62.08 803.08 L62.18 804.58 L62.27 806.08 L62.37 807.58 L62.47 809.08 L62.56 810.58 L62.66 812.07 L62.76 813.57 L62.86 815.07 L62.95 816.57 L63.05 818.07 L63.15 819.57 L63.25 821.07 L63.35 822.57 L63.45 824.07 L63.55 825.57 L63.65 827.06 L63.74 828.56 L63.84 830.06 L63.94 831.56 L64.04 833.06 L64.14 834.56 L64.24 836.06 L64.34 837.56 L64.43 839.06 L64.53 840.56 L64.63 842.06 L64.73 843.56 L64.82 845.06 L64.92 846.56 L65.02 848.06 L65.11 849.56 L65.21 851.06 L65.3 852.56 L65.4 854.06 L65.49 855.56 L65.59 857.06 L65.68 858.56 L65.77 860.06 L65.87 861.56 L65.96 863.06 L66.05 864.56 L66.14 866.06 L66.23 867.56 L66.32 869.06 L66.41 870.56 L66.49 872.07 L66.58 873.57 L66.67 875.07 L66.75 876.57 L66.84 878.07 L66.92 879.57 L67 881.08 L67.08 882.58 L67.16 884.08 L67.24 885.58 L67.32 887.08 L67.4 888.59 L67.48 890.09 L67.56 891.59 L67.64 893.09 L67.72 894.6 L67.8 896.1 L67.88 897.6 L67.96 899.1 L68.05 900.61 L68.13 902.11 L68.21 903.61 L68.3 905.11 L68.38 906.61 L68.47 908.12 L68.56 909.62 L68.65 911.12 L68.74 912.62 L68.84 914.12 L68.93 915.62 L69.03 917.12 L69.13 918.62 L69.24 920.12 L69.34 921.62 L69.45 923.12 L69.56 924.62 L69.68 926.11 L69.79 927.61 L69.91 929.11 L70.04 930.61 L70.16 932.1 L70.29 933.6 L70.43 935.09 L70.57 936.59 L70.71 938.08 L70.85 939.58 L71 941.07 L71.16 942.56 L71.32 944.06 L71.48 945.55 L71.65 947.04 L71.82 948.53 L72 950.02 L72.19 951.51 L72.37 953 L72.57 954.48 L72.77 955.97 L72.97 957.46 L73.18 958.94 L73.4 960.43 L73.62 961.91 L73.85 963.39 L74.09 964.88 L74.33 966.36 L74.58 967.84 L74.83 969.32 L75.09 970.8 L75.36 972.27 L75.64 973.75 L75.92 975.23 L76.21 976.7 L76.51 978.18 L76.81 979.65 L77.13 981.12 L77.45 982.59 L77.78 984.06 L78.11 985.53 L78.46 987 L78.81 988.47 L79.17 989.93 L79.54 991.4 L79.93 992.86 L80.34 994.3 L80.78 995.73 L81.28 997.12 L81.85 998.47 L82.49 999.78 L83.22 1001.02 L84.06 1002.2 L85.01 1003.3 L86.1 1004.31 L87.33 1005.22 L88.71 1006.03 L90.26 1006.73 L92 1007.3 L186.25 1011.25 C196 1011.5 198.75 1006 198.75 998 L199.3 970 C199.3 961 203 957.3 211.25 957.3 L449 957.3 C457 957.3 461.5 961 461.5 970 L461.5 998 C461.5 1007 465 1011.25 473.75 1011.25 L560 1008.5 L561.58 1008.29 L563.11 1007.97 L564.59 1007.55 L566.01 1007.02 L567.38 1006.41 L568.7 1005.7 L569.96 1004.91 L571.17 1004.05 L572.32 1003.11 L573.43 1002.1 L574.48 1001.03 L575.47 999.91 L576.41 998.73 L577.31 997.5 L578.14 996.24 L578.93 994.94 L579.66 993.6 L580.34 992.25 L580.96 990.87 L581.54 989.47 L582.06 988.07 L582.54 986.64 L582.98 985.21 L583.38 983.77 L583.75 982.32 L584.09 980.86 L584.4 979.39 L584.69 977.92 L584.96 976.45 L585.22 974.97 L585.46 973.49 L585.69 972.01 L585.91 970.53 L586.12 969.04 L586.32 967.56 L586.51 966.07 L586.69 964.58 L586.85 963.09 L587.01 961.6 L587.17 960.11 L587.31 958.62 L587.45 957.12 L587.58 955.63 L587.71 954.13 L587.83 952.63 L587.95 951.14 L588.07 949.64 L588.18 948.14 L588.29 946.64 L588.39 945.14 L588.5 943.64 L588.6 942.15 L588.71 940.65 L588.81 939.15 L588.92 937.65 L589.02 936.15 L589.13 934.65 L589.23 933.15 L589.34 931.65 L589.45 930.15 L589.55 928.65 L589.66 927.15 L589.77 925.65 L589.88 924.15 L589.99 922.65 L590.1 921.15 L590.2 919.66 L590.31 918.16 L590.42 916.66 L590.53 915.16 L590.64 913.66 L590.75 912.16 L590.87 910.66 L590.98 909.16 L591.09 907.66 L591.2 906.16 L591.31 904.66 L591.42 903.17 L591.53 901.67 L591.64 900.17 L591.75 898.67 L591.87 897.17 L591.98 895.67 L592.09 894.17 L592.2 892.67 L592.31 891.17 L592.42 889.67 L592.53 888.18 L592.64 886.68 L592.76 885.18 L592.87 883.68 L592.98 882.18 L593.09 880.68 L593.2 879.18 L593.31 877.68 L593.42 876.18 L593.53 874.69 L593.64 873.19 L593.75 871.69 L593.85 870.19 L593.96 868.69 L594.07 867.19 L594.18 865.69 L594.29 864.19 L594.39 862.69 L594.5 861.19 L594.6 859.7 L594.71 858.2 L594.82 856.7 L594.92 855.2 L595.02 853.7 L595.13 852.2 L595.23 850.7 L595.33 849.2 L595.44 847.7 L595.54 846.2 L595.64 844.71 L595.74 843.21 L595.84 841.71 L595.94 840.21 L596.03 838.71 L596.13 837.21 L596.23 835.71 L596.32 834.21 L596.42 832.71 L596.51 831.21 L596.61 829.71 L596.7 828.21 L596.79 826.71 L596.88 825.21 L596.97 823.71 L597.06 822.22 L597.15 820.72 L597.24 819.22 L597.33 817.72 L597.41 816.22 L597.5 814.72 L597.58 813.22 L597.66 811.72 L597.75 810.22 L597.83 808.72 L597.91 807.22 L597.99 805.72 L598.06 804.22 L598.14 802.72 L598.22 801.22 L598.29 799.72 L598.36 798.22 L598.44 796.72 L598.51 795.22 L598.58 793.72 L598.65 792.22 L598.72 790.72 L598.79 789.22 L598.85 787.72 L598.92 786.22 L598.98 784.72 L599.05 783.22 L599.11 781.72 L599.17 780.22 L599.23 778.72 L599.29 777.22 L599.35 775.72 L599.41 774.22 L599.47 772.72 L599.53 771.22 L599.58 769.71 L599.64 768.21 L599.69 766.71 L599.74 765.21 L599.8 763.71 L599.85 762.21 L599.9 760.71 L599.95 759.21 L600 757.71 L600.05 756.21 L600.09 754.71 L600.14 753.21 L600.18 751.71 L600.23 750.2 L600.27 748.7 L600.32 747.2 L600.36 745.7 L600.4 744.2 L600.44 742.7 L600.48 741.2 L600.52 739.7 L600.56 738.2 L600.6 736.7 L600.63 735.19 L600.67 733.69 L600.7 732.19 L600.74 730.69 L600.77 729.19 L600.81 727.69 L600.84 726.19 L600.87 724.68 L600.9 723.18 L600.93 721.68 L600.96 720.18 L600.99 718.68 L601.02 717.18 L601.04 715.68 L601.07 714.17 L601.1 712.67 L601.12 711.17 L601.15 709.67 L601.17 708.17 L601.2 706.67 L601.22 705.16 L601.24 703.66 L601.26 702.16 L601.28 700.66 L601.3 699.16 L601.32 697.66 L601.34 696.15 L601.36 694.65 L601.38 693.15 L601.4 691.65 L601.41 690.15 L601.43 688.64 L601.44 687.14 L601.46 685.64 L601.47 684.14 L601.49 682.64 L601.5 681.13 L601.51 679.63 L601.52 678.13 L601.54 676.63 L601.55 675.12 L601.56 673.62 L601.57 672.12 L601.58 670.62 L601.59 669.12 L601.59 667.61 L601.6 666.11 L601.61 664.61 L601.62 663.11 L601.62 661.6 L601.63 660.1 L601.63 658.6 L601.64 657.1 L601.64 655.59 L601.65 654.09 L601.65 652.59 L601.65 651.09 L601.66 649.58 L601.66 648.08 L601.66 646.58 L601.66 645.08 L601.66 643.57 L601.66 642.07 L601.66 640.57 L601.66 639.07 L601.66 637.56 L601.66 636.06 L601.66 634.56 L601.66 633.05 L601.66 631.55 L601.66 630.05 L601.65 628.55 L601.65 627.04 L601.65 625.54 L601.64 624.04 L601.64 622.53 L601.63 621.03 L601.63 619.53 L601.62 618.03 L601.62 616.52 L601.61 615.02 L601.6 613.52 L601.6 612.01 L601.59 610.51 L601.58 609.01 L601.57 607.5 L601.56 606 L601.55 604.5 L601.54 603 L601.53 601.49 L601.52 599.99 L601.51 598.49 L601.5 596.98 L601.49 595.48 L601.48 593.98 L601.46 592.47 L601.45 590.97 L601.44 589.47 L601.42 587.97 L601.41 586.46 L601.39 584.96 L601.37 583.46 L601.36 581.95 L601.34 580.45 L601.32 578.95 L601.3 577.44 L601.28 575.94 L601.26 574.44 L601.24 572.94 L601.22 571.43 L601.2 569.93 L601.18 568.43 L601.16 566.92 L601.13 565.42 L601.11 563.92 L601.09 562.41 L601.06 560.91 L601.03 559.41 L601.01 557.91 L600.98 556.4 L600.95 554.9 L600.93 553.4 L600.9 551.89 L600.87 550.39 L600.84 548.89 L600.81 547.39 L600.77 545.88 L600.74 544.38 L600.71 542.88 L600.68 541.38 L600.64 539.87 L600.61 538.37 L600.57 536.87 L600.53 535.37 L600.5 533.86 L600.46 532.36 L600.42 530.86 L600.38 529.36 L600.34 527.85 L600.3 526.35 L600.26 524.85 L600.21 523.35 L600.17 521.85 L600.13 520.34 L600.08 518.84 L600.04 517.34 L599.99 515.84 L599.94 514.34 L599.89 512.83 L599.85 511.33 L599.8 509.83 L599.75 508.33 L599.69 506.83 L599.64 505.32 L599.59 503.82 L599.53 502.32 L599.48 500.82 L599.42 499.32 L599.37 497.82 L599.31 496.32 L599.25 494.81 L599.19 493.31 L599.13 491.81 L599.07 490.31 L599.01 488.81 L598.95 487.31 L598.88 485.81 L598.82 484.31 L598.75 482.81 L598.69 481.3 L598.62 479.8 L598.55 478.3 L598.48 476.8 L598.41 475.3 L598.34 473.8 L598.27 472.3 L598.2 470.8 L598.12 469.3 L598.05 467.8 L597.97 466.3 L597.89 464.8 L597.81 463.3 L597.74 461.8 L597.66 460.3 L597.57 458.8 L597.49 457.3 L597.41 455.8 L597.32 454.3 L597.24 452.8 L597.15 451.3 L597.07 449.8 L596.98 448.3 L596.89 446.8 L596.8 445.3 L596.7 443.81 L596.61 442.31 L596.52 440.81 L596.42 439.31 L596.33 437.81 L596.23 436.31 L596.13 434.81 L596.03 433.31 L595.93 431.81 L595.83 430.32 L595.73 428.82 L595.62 427.32 L595.52 425.82 L595.41 424.32 L595.3 422.83 L595.2 421.33 L595.09 419.83 L594.97 418.33 L594.86 416.84 L594.75 415.34 L594.63 413.84 L594.52 412.34 L594.4 410.85 L594.28 409.35 L594.16 407.85 L594.04 406.35 L593.92 404.86 L593.8 403.36 L593.67 401.86 L593.55 400.37 L593.42 398.87 L593.29 397.38 L593.16 395.88 L593.03 394.38 L592.9 392.89 L592.77 391.39 L592.63 389.9 L592.5 388.4 L592.36 386.9 L592.22 385.41 L592.08 383.91 L591.94 382.42 L591.8 380.92 L591.66 379.43 L591.51 377.93 L591.37 376.44 L591.22 374.94 L591.07 373.45 L590.92 371.96 L590.77 370.46 L590.62 368.97 L590.47 367.47 L590.32 365.98 L590.16 364.49 L590 362.99 L589.84 361.5 L589.69 360 L589.52 358.51 L589.36 357.02 L589.2 355.53 L589.04 354.03 L588.87 352.54 L588.7 351.05 L588.53 349.55 L588.36 348.06 L588.19 346.57 L588.02 345.08 L587.85 343.59 L587.67 342.1 L587.5 340.6 L587.32 339.11 L587.14 337.62 L586.96 336.13 L586.78 334.64 L586.6 333.15 L586.42 331.66 L586.23 330.17 L586.05 328.68 L585.86 327.19 L585.67 325.7 L585.48 324.21 L585.29 322.72 L585.1 321.23 L584.9 319.74 L584.71 318.25 L584.51 316.76 L584.31 315.27 L584.12 313.78 L583.92 312.29 L583.71 310.8 L583.51 309.32 L583.31 307.83 L583.1 306.34 L582.9 304.85 L582.69 303.37 L582.48 301.88 L582.27 300.39 L582.06 298.9 L581.84 297.42 L581.63 295.93 L581.41 294.44 L581.2 292.96 L580.98 291.47 L580.76 289.99 L580.54 288.5 L580.32 287.01 L580.09 285.53 L579.87 284.04 L579.64 282.56 L579.42 281.07 L579.19 279.59 L578.96 278.1 L578.73 276.62 L578.5 275.14 L578.26 273.65 L578.03 272.17 L577.79 270.68 L577.55 269.2 L577.31 267.72 L577.07 266.24 L576.83 264.75 L576.59 263.27 L576.35 261.79 L576.1 260.31 L575.85 258.82 L575.6 257.34 L575.36 255.86 L575.1 254.38 L574.85 252.9 L574.6 251.42 L574.34 249.94 L574.09 248.46 L573.83 246.98 L573.57 245.5 L573.31 244.02 L573.05 242.54 L572.79 241.06 L572.53 239.58 L572.26 238.1 L571.99 236.62 L571.73 235.14 L571.46 233.66 L571.19 232.19 L570.91 230.71 L570.64 229.23 L570.37 227.75 L570.09 226.28 L569.81 224.8 L569.54 223.32 L569.26 221.85 L568.97 220.37 L568.69 218.9 L568.41 217.42 L568.12 215.94 L567.84 214.47 L567.55 212.99 L567.26 211.52 L566.97 210.04 L566.68 208.57 L566.39 207.1 L566.09 205.62 L565.8 204.15 L565.5 202.68 L565.2 201.2 L564.9 199.73 L564.6 198.26 L564.3 196.79 L563.99 195.31 L563.69 193.84 L563.38 192.37 L563.07 190.9 L562.76 189.43 L562.45 187.96 L562.14 186.49 L561.83 185.02 L561.51 183.55 L561.2 182.08 L560.88 180.61 L560.56 179.14 L560.24 177.67 L559.92 176.2 L559.6 174.73 L559.27 173.27 L558.95 171.8 L558.62 170.33 L558.29 168.86 L557.96 167.4 L557.63 165.93 L557.3 164.47 L556.96 163 L556.63 161.53 L556.29 160.07 L555.95 158.61 L555.61 157.14 L555.27 155.68 L554.92 154.21 L554.58 152.75 L554.23 151.29 L553.88 149.83 L553.54 148.36 L553.18 146.9 L552.83 145.44 L552.48 143.98 L552.12 142.52 L551.76 141.06 L551.41 139.6 L551.05 138.14 L550.68 136.69 L550.32 135.23 L549.95 133.77 L549.59 132.31 L549.22 130.86 L548.85 129.4 L548.48 127.94 L548.1 126.49 L547.73 125.04 L547.35 123.58 L546.97 122.13 L546.59 120.67 L546.21 119.22 L545.83 117.77 L545.44 116.32 L545.06 114.87 L544.67 113.42 L544.28 111.97 L543.89 110.52 L543.49 109.07 L543.1 107.62 L542.7 106.17 L542.3 104.72 L541.9 103.28 L541.5 101.83 L541.09 100.38 L540.69 98.94 L540.28 97.49 L539.87 96.05 L539.46 94.61 L539.05 93.16 L538.63 91.72 L538.22 90.28 L537.8 88.84 L537.38 87.4 L536.95 85.96 L536.53 84.52 L536.1 83.08 L535.68 81.64 L535.25 80.21 L534.82 78.77 L534.38 77.34 L533.95 75.9 L533.51 74.47 L533.06 73.03 L532.62 71.6 L532.17 70.17 L531.71 68.74 L531.24 67.32 L530.72 65.91 L530.16 64.52 L529.52 63.14 L528.8 61.79 L527.97 60.48 L527.02 59.2 L525.96 58.02 L524.78 57.02 L523.52 56.32 L522.18 56 L520.78 56.09 L519.37 56.53 L517.97 57.25 L516.63 58.19 L515.37 59.29 L514.25 60.47 L513.26 61.7 L512.4 62.97 L511.63 64.28 L510.94 65.61 L510.3 66.95 L509.71 68.32 L509.13 69.69 L508.55 71.06 L507.96 72.43 L507.37 73.81 L506.78 75.18 L506.2 76.57 L505.62 77.96 L505.06 79.35 L504.5 80.76 L503.97 82.18 L503.46 83.61 L502.98 85.04 L502.52 86.48 L502.1 87.93 L501.71 89.39 L501.37 90.84 L501.06 92.31 L500.79 93.77 L500.54 95.24 L500.3 96.71 L500.06 98.18 L499.82 99.65 L499.58 101.12 L499.31 102.59 L499.04 104.06 L498.75 105.52 L498.46 106.99 L498.15 108.46 L497.83 109.92 L497.5 111.39 L497.17 112.85 L496.82 114.31 L496.47 115.77 L496.11 117.23 L495.75 118.69 L495.37 120.15 L495 121.61 L494.61 123.07 L494.23 124.52 L493.84 125.98 L493.44 127.44 L493.05 128.89 L492.65 130.34 L492.25 131.8 L491.85 133.25 L491.45 134.7 L491.05 136.15 L490.65 137.6 L490.24 139.05 L489.83 140.5 L489.43 141.95 L489.02 143.4 L488.61 144.84 L488.2 146.29 L487.79 147.74 L487.38 149.18 L486.96 150.63 L486.55 152.07 L486.13 153.52 L485.72 154.96 L485.3 156.4 L484.89 157.85 L484.47 159.29 L484.05 160.73 L483.63 162.17 L483.21 163.62 L482.79 165.06 L482.37 166.5 L481.95 167.94 L481.53 169.38 L481.11 170.82 L480.69 172.26 L480.27 173.7 L479.85 175.14 L479.43 176.58 L479 178.02 L478.58 179.47 L478.16 180.91 L477.74 182.35 L477.32 183.79 L476.9 185.23 L476.47 186.67 L476.05 188.11 L475.63 189.55 L475.21 190.99 L474.79 192.43 L474.37 193.87 L473.95 195.31 L473.53 196.75 L473.11 198.19 L472.69 199.63 L472.28 201.08 L471.86 202.52 L471.44 203.96 L471.03 205.4 L470.61 206.85 L470.2 208.29 L469.78 209.73 L469.37 211.18 L468.96 212.62 L468.55 214.07 L468.14 215.51 L467.73 216.96 L467.32 218.41 L466.91 219.85 L466.51 221.3 L466.1 222.75 L465.7 224.2 L465.3 225.65 L464.9 227.1 L464.5 228.55 L464.1 230 C460.59 243.5 451.2 246.22 443.2 244.3 C382.2 230 339.2 223.6 329.2 223.6 Z" fill="none" stroke="#1c1c1a" stroke-width="2"/>
</svg>
</body></html>
